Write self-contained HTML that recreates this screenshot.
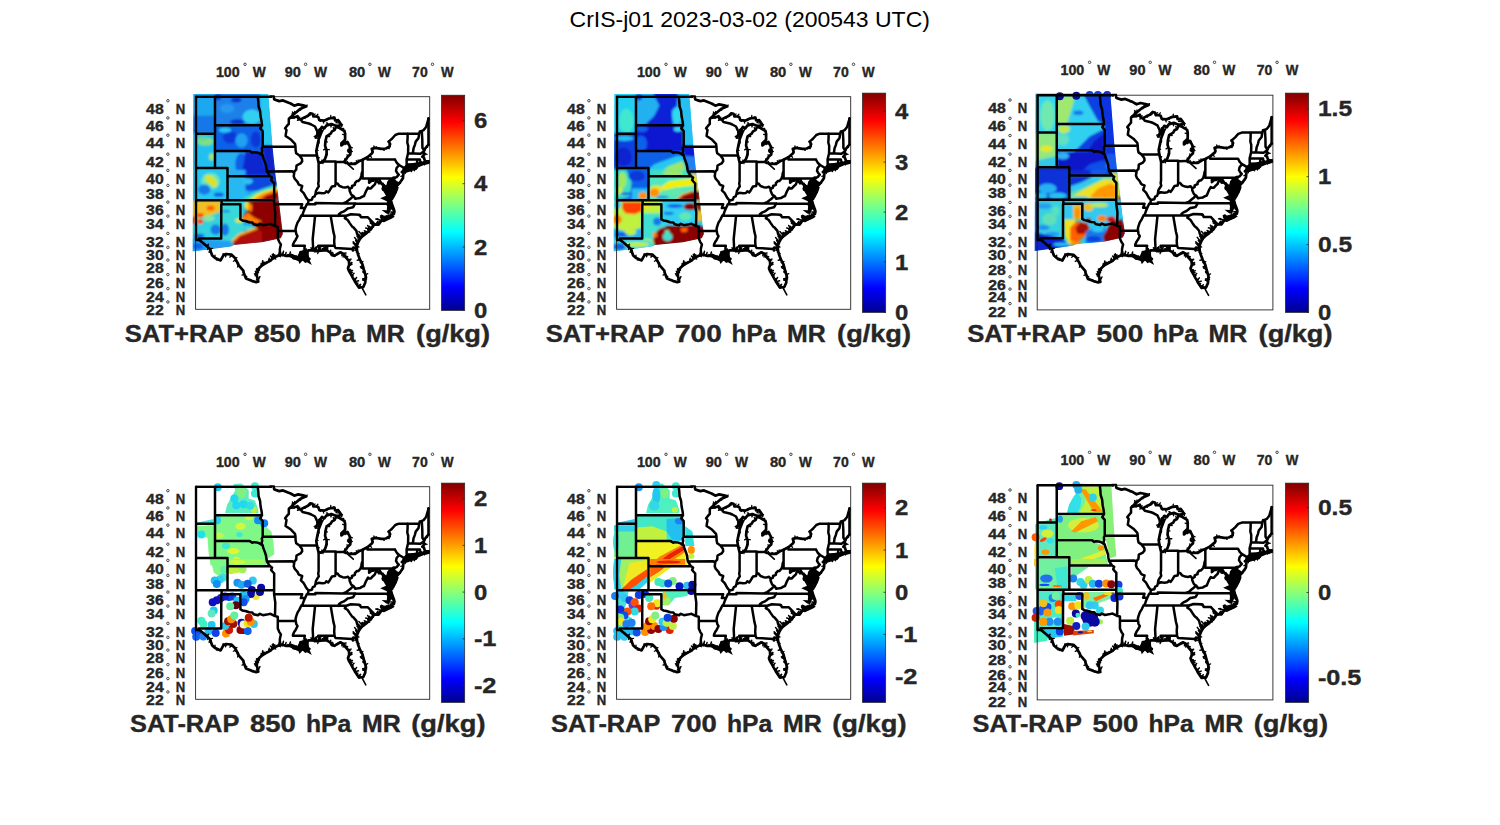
<!DOCTYPE html><html><head><meta charset="utf-8"><style>html,body{margin:0;padding:0;background:#fff}body{width:1500px;height:825px;overflow:hidden;font-family:"Liberation Sans",sans-serif}</style></head><body><svg width="1500" height="825" viewBox="0 0 1500 825" style="display:block" font-family="Liberation Sans, sans-serif">
<defs>
<g id="usmap" fill="none" stroke="#000" stroke-linejoin="round" stroke-linecap="round"><path d="M0.9 0.1L75.2 0.1 M19.4 0.1L19.4 71.3 M0.9 37.0L19.4 37.0 M0.9 71.3L31.9 71.3 M31.9 71.3L31.9 103.6 M31.9 79.5L74.3 79.5 M0.9 103.6L78.5 103.6 M26.0 103.6L26.0 107.5 M26.0 107.5L44.8 107.5 M25.7 107.5L25.6 141.7L3.3 141.7L3.8 143.3L0.9 143.3 M44.8 107.5L44.8 122.5 M19.4 28.6L66.4 28.6 M19.4 54.4L54.2 54.4L56.7 56.1L58.3 55.5L61.1 55.7L63.6 56.5L65.5 57.8L67.1 58.8 M67.1 50.1L66.2 51.8L66.6 54.0L65.9 56.8L67.1 58.8 M67.1 50.1L67.1 34.3L64.6 31.6L66.4 28.6 M66.4 28.6L66.1 25.3L65.0 19.8L64.5 14.3L63.0 9.6L62.7 4.9L62.2 0.1 M67.1 50.1L99.9 50.1 M71.3 74.8L96.7 74.5L98.6 76.4 M67.1 58.8L67.7 61.2L69.3 65.4L70.4 68.8L70.8 72.1L71.3 74.8L73.0 77.5L74.3 79.5L76.5 80.8L75.5 83.2L76.8 84.8L78.6 86.8 M78.6 86.8L78.5 107.5 M78.5 107.5L79.7 116.0L79.4 129.4 M78.5 107.5L106.6 107.5L105.2 111.4L109.4 111.4 M44.8 122.5L46.7 123.7L49.8 124.3L53.6 125.6L56.7 125.7L58.0 127.6L62.4 128.6L64.2 127.1L67.4 128.5L71.1 127.9L74.9 127.1L79.4 129.4L82.2 130.1L82.2 141.8L83.7 145.4L85.3 147.7L84.3 152.0L84.2 155.6L83.4 158.5 M82.2 134.1L100.2 134.2 M94.3 21.2L93.2 22.0L93.2 27.3L92.2 28.2L89.5 31.6L90.9 33.4L90.3 37.0L90.0 39.2L93.1 41.4L95.6 43.1L99.4 47.1L99.9 50.1 M99.9 50.1L100.0 53.6L100.6 56.6L103.5 58.6L106.3 62.1L106.6 64.6L105.0 66.7L100.9 68.8L100.6 73.0L98.7 75.0L98.6 76.4L98.1 79.5L99.1 82.0L101.9 85.2L103.1 87.7L104.4 88.5L106.6 89.3L106.3 90.5L105.3 93.7L108.1 96.5L110.7 101.2L112.9 103.8L112.5 106.7L111.2 107.5L110.3 109.5L109.4 111.4L108.1 114.5L106.9 118.0L105.6 119.1L103.8 122.9L101.9 126.0L100.6 129.7L100.0 132.0L100.2 134.2L100.6 137.2L101.9 139.5L100.0 143.2L98.7 145.0L97.5 147.6L97.3 149.0 M97.3 149.0L109.2 149.0L108.8 151.6L109.9 155.0 M103.5 58.6L121.3 58.7 M123.0 65.4L123.0 84.8L122.6 86.9L123.2 89.7L121.6 92.1L120.4 94.1L119.9 97.3 M167.0 74.3L166.2 76.3L165.7 79.0L164.9 82.0L162.7 84.4L161.2 84.4L159.3 86.5L159.3 88.1L156.4 89.3L156.4 90.9L154.0 92.3L152.4 90.1L149.5 90.9L147.0 90.5L143.9 89.3L142.0 86.9L140.0 86.9L139.5 89.3L136.4 89.8L134.2 93.5L132.6 95.7L130.7 94.5L129.5 96.2L126.3 96.5L122.9 96.1L119.9 97.3L119.1 99.7L117.2 100.4L116.3 103.0L112.9 103.8 M140.0 65.4L140.0 86.9 M167.0 63.1L167.0 81.8 M167.0 81.8L196.7 81.8L197.9 80.9L199.0 81.2 M171.8 60.6L171.8 62.9L199.4 62.9 M199.4 62.9L201.3 66.3L203.5 68.3L201.0 71.3L200.4 74.2L201.9 76.7L203.2 77.9L201.0 80.4L199.0 81.2 M203.5 68.3L208.5 71.3 M196.7 81.8L196.7 92.0L201.3 92.1 M184.6 85.1L183.7 82.8L181.5 82.2L180.3 82.8L178.1 82.8L177.8 84.0L175.9 84.0L173.5 86.1L173.5 81.8 M184.6 85.1L183.9 86.6L180.6 83.9L179.3 87.7L177.3 89.5L175.3 91.7L173.4 91.7L172.4 90.9L170.6 94.1L168.4 99.3L166.8 99.9L164.6 101.2L162.4 101.6L159.7 102.0L157.9 99.3 M157.9 99.3L155.8 98.1L155.2 96.9L154.0 94.1L154.0 92.3 M157.9 99.3L155.5 101.5L153.3 103.2L150.5 105.6L147.2 106.7 M147.2 106.7L159.7 106.7L159.7 107.1L196.2 107.1 M147.2 106.7L119.8 106.3L119.8 107.5L111.2 107.5 M159.7 106.7L158.3 109.1L157.4 110.6L153.9 111.4L152.1 111.8L148.3 114.7L145.2 116.0L143.3 117.6L143.1 119.2 M105.6 119.1L150.8 119.1 M150.8 119.1L155.2 117.6L163.7 118.0L163.8 118.7L164.4 118.3L165.4 120.5L172.3 120.6L179.3 127.8 M150.8 119.1L149.2 121.4L152.1 123.3L154.3 126.7L156.4 129.7L158.0 130.9L160.8 134.2L161.5 137.2L163.0 140.2L163.3 140.9L164.8 141.5 M135.1 119.3L137.8 135.2L138.9 139.5L138.6 144.6L138.9 149.0 M138.9 149.0L122.6 149.0L122.6 150.1L123.8 151.6L123.1 154.3 M138.9 149.0L139.8 151.2L156.4 152.2L157.4 153.8L157.7 152.0L157.4 150.9L160.8 151.1 M118.8 119.1L119.4 119.9L117.1 142.5L117.6 153.6 M212.0 36.9L212.0 41.4L211.7 45.8L212.6 49.2L212.5 56.6L211.0 62.5L211.1 68.8L209.8 70.5L210.1 71.3 M212.5 56.6L224.8 57.0L227.3 55.4L227.8 55.5 M211.0 62.5L221.7 62.7L224.3 62.7L224.3 63.8L225.5 65.9L226.0 67.1 M221.7 62.7L221.4 68.6 M223.6 36.9L222.9 41.4L220.1 44.9L219.2 48.4L217.9 51.8L217.6 54.4L217.0 56.7 M226.2 34.3L226.7 43.1L226.8 51.0L228.6 53.8 M193.1 44.9L196.6 41.8L199.7 38.3L203.2 37.0L223.6 36.9L224.2 34.7L226.2 34.3L228.0 33.4L230.5 30.3L231.4 27.1L233.0 21.7 M122.6 36.1L121.3 33.9L119.4 29.8L115.7 27.8L113.2 26.8L106.9 25.3L105.0 22.8 M148.6 65.2L140.1 65.4L140.1 64.9L127.5 64.9 M200.0 95.5L197.5 96.1" stroke-width="2.5"/><path d="M110.7 9.6L104.4 12.4L99.4 16.6L94.3 21.2L100.0 20.3L101.9 19.4L102.8 22.1L105.0 22.8L108.8 20.7L111.9 19.4L114.7 16.6L116.9 17.1L117.9 19.8L120.7 19.8L122.6 20.3L123.8 23.5L128.8 23.9L133.2 21.8L138.9 21.0L139.5 23.8L142.6 23.5L144.5 26.2L145.8 28.3L140.8 29.4L135.7 27.3L130.7 28.9L128.8 31.6L126.3 30.3L122.6 36.1 M122.6 36.1L120.1 40.9L124.5 35.2L126.3 34.3L123.2 42.3L121.9 48.4L120.7 54.4L121.3 58.7L122.6 64.2L123.1 65.4L125.1 66.0L127.5 64.9 M127.5 64.9L129.5 62.1L131.0 57.8L131.0 53.6L129.5 49.2L129.8 44.9L131.0 39.6L135.1 37.0L136.4 34.7L138.9 33.4L140.5 30.0L143.9 31.3L148.9 34.3L149.5 37.0L149.5 43.1L145.8 46.6L145.8 48.8L148.9 46.2L151.7 45.2L153.9 49.2L155.1 54.4L154.6 57.8L152.1 60.0L150.5 62.5L148.6 65.2 M148.6 65.2L153.3 67.1L157.7 67.1L159.6 67.1L164.0 64.2L167.0 63.1L171.8 60.6L176.5 56.6L177.1 55.3L176.2 52.2L179.7 51.2L185.9 52.1L190.3 51.8L194.1 49.7L194.1 46.6L193.1 44.9 M233.0 47.9L231.7 49.2L229.5 51.8L228.6 53.8L227.8 55.5L229.2 57.4L228.0 58.3L226.7 60.0L228.3 60.8L228.9 62.9L229.8 64.6L233.0 64.6 M233.0 65.9L229.8 66.7L228.9 65.0L228.9 66.7L226.0 67.1L224.2 67.1L223.6 68.2L221.4 68.6L218.6 69.0L214.2 69.6L210.1 71.3L208.5 71.3L207.6 74.2L206.3 75.4L207.9 75.8L207.3 81.6L205.4 84.4L202.2 88.2L201.6 86.1L199.1 84.4L198.2 82.8L199.0 81.2L197.9 83.2L199.1 86.9L201.0 89.3L201.3 92.1L200.0 95.5L197.9 99.7L195.7 102.7L195.3 101.2L196.6 98.1L197.5 96.1L196.0 96.1L194.1 93.3L193.5 90.1L194.1 87.7L194.7 84.4L195.3 83.2L194.7 83.2L192.8 85.7L192.2 88.5L192.8 92.5L193.3 95.3L189.7 93.3L187.5 92.9L187.2 91.7L188.8 89.3L185.9 86.9L184.6 85.1 M207.9 74.8L211.0 74.6L217.3 72.5L221.1 70.9L218.6 70.5L216.7 71.5L212.9 71.9L209.5 72.5L208.2 73.4L207.9 74.8 M193.3 95.3L193.5 98.9L193.5 103.6L195.5 104.4L196.2 107.1L197.2 109.8L198.5 113.3L198.8 114.9L198.3 117.3L195.3 118.6L192.0 122.2L189.1 121.8L185.9 123.7L183.1 127.9L179.3 127.8L177.1 129.4L175.3 132.7L172.8 134.6L170.9 136.5L167.4 139.1L164.8 141.5L163.0 144.6L161.5 148.3L161.2 151.1L161.5 154.1L162.4 157.8L164.6 163.5L166.8 167.5L168.4 173.5L170.1 179.1L169.6 186.1L167.7 190.3L163.3 190.9L159.6 185.4L159.0 184.0L157.1 180.9L155.8 178.4L153.3 174.2L152.4 171.7L153.6 167.8L153.3 164.2L150.2 160.7L147.0 156.7L144.8 155.6L142.6 156.7L138.6 159.1L136.4 158.5L134.5 155.6L130.7 153.4L125.1 153.9L123.1 154.3L120.1 154.5L120.1 151.4L120.7 153.4L119.4 153.8L117.6 153.6L113.2 153.6L109.9 155.0L108.5 155.2L111.3 156.0L111.3 158.1L110.0 159.2L112.5 161.4L113.8 162.2L111.3 163.9L110.0 161.7L106.9 162.4L103.8 163.2L100.0 161.7L96.2 159.9L94.3 159.2L90.6 159.2L86.8 158.1L83.4 158.5L78.0 161.0L74.9 163.9L69.9 166.7L66.7 168.5L63.6 171.4L61.7 175.6L61.1 178.4L62.0 181.9L62.7 185.0L60.5 185.4L56.1 184.0L50.4 181.9L47.9 175.6L47.9 174.2L42.9 168.5L41.7 165.7L39.1 161.0L36.0 158.0L30.4 157.3L27.9 158.5L25.0 163.7L19.7 161.4L16.6 158.8L14.1 152.0L7.2 146.1L3.8 143.3 M75.2 0.1L75.2 -3.5L77.4 -2.7L78.7 2.8L83.7 4.4L87.4 3.7L91.8 5.6L95.0 6.8L98.7 9.0L102.5 7.7L107.5 8.7L110.7 9.6" stroke-width="2.7"/><path d="M167.7 190.3L166.8 192.0L170.2 198.2 M66.7 168.5L67.1 164.2 M78.0 161.0L76.8 158.1 M152.1 67.5L157.7 72.5" stroke-width="1.6"/><path d="M109.2 10.3l-1.8 -0.5M106.9 11.3l-0.9 -0.9M110.6 9.7l0.9 -1.4M103.2 13.4l2.0 -0.1M100.2 15.9l-2.3 0.3M98.6 17.3l-1.8 -2.1M96.7 19.0l-0.1 -2.4M99.0 16.9l0.1 -2.3M96.0 20.9l2.7 0.5M97.0 20.8l-0.5 -2.7M102.5 21.3l1.7 -0.9M104.6 22.7l-2.7 1.0M108.3 21.0l1.2 0.8M109.5 20.4l1.9 -0.4M113.7 17.6l-0.7 2.0M115.6 16.8l-1.3 1.8M117.5 18.7l2.0 -1.4M120.5 19.8l1.8 -2.3M123.4 22.4l1.4 2.3M128.7 23.9l1.8 -1.3M127.4 23.8l0.7 2.6M131.4 22.7l-0.3 1.3M132.6 22.1l1.4 -0.1M137.8 21.2l-1.2 0.8M134.9 21.6l0.3 -2.8M138.9 21.1l-1.0 -0.8M141.8 23.6l-1.4 2.4M144.5 26.2l-3.0 -0.1M144.9 26.9l2.0 1.1M145.6 28.3l0.6 1.8M142.7 28.9l0.7 1.1M136.4 27.6l-1.1 2.7M136.3 27.5l-1.5 1.4M133.1 28.1l-1.4 -1.8M132.9 28.2l-2.1 -2.0M129.8 30.3l-2.3 1.0M128.3 31.3l-0.9 2.8M124.4 33.3l-1.2 -0.4M124.8 32.7l-1.1 -0.6M124.0 33.8l-0.9 -1.0M121.0 39.1l-2.4 0.5M121.7 37.8l-0.7 -2.4M120.2 40.8l2.2 0.9M124.3 35.4l-0.0 2.0M122.7 37.5l-0.8 1.7M125.4 36.8l-1.5 1.7M125.4 36.7l-1.9 1.8M126.3 34.5l-2.3 -1.1M122.8 44.2l0.5 2.6M122.9 43.7l0.8 1.8M121.1 52.6l1.4 1.1M121.5 50.4l1.0 -1.7M121.2 58.1l0.9 1.6M122.1 62.3l1.5 -1.3M121.6 59.9l1.6 1.5M125.5 65.8l0.9 -2.5M127.8 64.4l-0.5 2.6M130.5 59.3l0.6 -1.7M129.7 61.5l-0.7 2.5M131.0 56.7l-1.1 1.6M130.4 51.7l-2.4 1.5M130.8 52.9l2.9 0.1M129.8 45.4l2.0 -0.2M131.0 39.9l1.4 -0.7M130.7 41.0l1.2 -2.0M133.2 38.2l-0.4 1.8M132.0 39.0l2.1 0.9M135.5 36.3l0.5 -1.2M138.6 33.5l-1.0 -2.7M140.3 30.4l1.8 -1.3M140.5 30.0l-0.0 -1.5M145.4 32.2l-1.1 -1.8M146.0 32.6l2.1 -0.9M149.1 35.2l-0.0 2.8M149.5 39.9l0.4 -1.8M149.5 38.2l-2.6 -0.6M148.9 43.7l0.7 -2.8M146.5 46.0l0.5 -1.1M147.8 47.2l0.8 -1.0M149.7 45.9l-0.3 2.1M152.7 46.9l-2.6 0.4M151.7 45.2l1.3 0.5M154.1 49.9l2.7 1.2M154.9 53.7l1.8 1.1M154.9 55.5l-0.7 1.7M152.9 59.2l-1.6 -1.0M151.8 60.4l-0.7 1.3M149.4 64.0l-0.4 -1.8M149.0 65.3l0.8 1.7M151.5 66.4l0.4 -1.8M156.8 67.1l-1.4 -1.4M161.2 66.0l-2.5 0.1M161.4 65.9l-0.7 -1.9M164.7 63.9l-2.4 -0.5M167.3 62.9l-1.8 0.9M171.2 60.9l1.7 -0.7M176.0 57.0l0.4 -1.6M174.0 58.7l1.9 1.9M176.5 53.2l2.0 -1.7M178.5 51.5l-0.2 -2.2M180.3 51.3l-1.0 -0.6M180.6 51.4l0.2 -1.3M186.3 52.1l2.3 1.6M191.0 51.4l2.7 0.4M194.1 49.3l1.3 -2.0M229.9 51.4l2.1 -0.7M228.9 57.0l2.5 0.6M228.6 61.9l-0.3 -1.4M232.2 64.6l1.2 -0.5M232.0 66.1l-2.5 -1.1M228.2 66.8l0.7 1.5M222.2 68.5l0.0 -1.9M220.3 68.8l-1.5 1.1M216.7 69.2l1.8 1.0M214.3 69.6l-2.2 1.3M213.5 69.9l-0.9 -2.4M211.4 70.8l-2.1 -0.2M207.9 73.2l1.2 -0.9M207.8 76.4l-0.0 -2.8M207.6 78.8l-2.3 0.9M206.9 82.1l-0.2 1.5M203.5 86.7l-0.6 1.5M203.2 87.1l1.7 -0.5M201.8 86.7l-2.3 1.4M200.1 85.1l-0.2 1.6M199.0 81.2l-1.9 0.2M198.1 83.8l-1.1 1.4M200.6 88.7l1.8 2.3M201.1 90.6l-1.7 -1.2M200.3 94.9l1.0 -2.0M199.0 97.5l-0.5 -2.7M199.2 97.1l-0.3 -2.9M196.8 101.1l0.2 1.6M196.2 99.0l-1.3 -2.6M194.4 93.7l0.1 1.5M193.9 92.5l0.9 2.3M194.0 88.0l1.3 -1.0M194.6 84.9l-0.8 1.8M193.3 85.0l1.2 0.7M192.3 88.0l-0.5 1.8M192.6 90.8l-0.5 -1.1M193.0 93.4l-1.9 0.8M192.5 94.9l-2.5 -1.5M188.8 93.1l-1.4 -0.4M187.6 91.0l-0.7 -1.2M186.3 87.1l1.2 -0.7M184.6 85.2l-1.8 1.8M210.3 74.6l-0.7 2.3M215.1 73.3l0.6 -1.6M215.8 73.0l2.3 -0.6M214.4 73.5l1.6 1.4M218.6 72.0l-0.5 -2.4M219.6 70.6l1.0 2.1M214.3 71.7l1.2 2.5M210.6 72.3l2.1 2.0M193.3 95.8l-1.2 2.2M193.5 101.7l-2.2 -0.8M193.5 101.0l-0.6 1.4M193.6 103.7l-0.5 -2.5M195.9 105.9l-0.1 -1.8M196.4 107.8l-2.1 1.9M197.3 110.0l-1.6 -0.0M198.4 116.8l-1.1 1.4M197.1 117.8l-2.5 -0.7M194.2 119.8l0.8 -1.2M194.4 119.5l1.1 0.8M189.7 121.9l-0.2 -1.5M188.5 122.1l-2.2 1.3M183.6 127.1l-0.0 -2.3M185.5 124.3l-1.2 0.9M181.1 127.8l-1.4 -0.7M178.8 128.2l0.2 -1.2M175.6 132.1l2.3 -1.8M174.3 133.5l-2.1 -0.7M171.6 135.8l2.4 -0.4M169.8 137.3l1.3 -1.6M165.8 140.5l-0.2 -1.2M163.4 143.9l-1.1 -1.8M162.2 146.6l-1.5 0.4M161.3 149.8l2.0 0.5M161.4 153.1l-2.1 0.8M162.4 157.6l1.1 -0.9M164.1 162.3l-0.9 -0.9M163.2 159.8l0.1 1.3M165.8 165.6l1.6 -0.8M166.5 166.9l-0.5 -1.4M168.1 172.6l-2.3 -1.7M167.9 171.8l-0.1 -1.8M169.7 178.1l2.5 -1.1M169.1 176.0l0.1 -2.1M170.0 179.9l1.3 0.4M170.0 180.5l1.1 1.8M169.8 184.0l-1.9 -0.5M168.4 188.8l-0.7 1.9M168.2 189.3l-1.2 0.9M163.8 190.8l-0.4 -1.8M166.1 190.5l-2.2 -0.4M162.5 189.7l1.6 0.0M160.4 186.6l1.3 1.6M158.6 183.4l0.4 1.5M156.6 179.9l0.6 1.1M155.5 178.0l1.0 1.8M155.7 178.2l2.0 0.3M152.9 173.2l-0.4 -1.2M152.9 170.1l-1.0 0.8M153.3 164.4l0.3 1.3M151.8 162.5l1.2 2.0M152.2 163.0l0.9 0.9M147.9 157.8l-0.4 2.6M148.7 158.8l1.6 -0.7M146.5 156.4l-0.3 2.7M143.5 156.3l-0.8 1.1M139.9 158.3l2.2 -0.4M142.6 156.7l1.3 0.3M138.2 159.0l1.3 0.3M135.1 156.6l1.3 -0.9M130.8 153.5l-2.6 0.4M125.6 153.9l1.2 -0.5M129.0 153.6l-2.3 -1.8M122.8 154.3l-0.7 2.6M120.1 154.1l-1.4 1.1M114.6 153.6l1.4 -0.7M110.8 154.7l-0.3 -2.7M110.0 155.6l1.6 -0.9M111.1 160.1l0.3 2.6M112.6 163.0l-0.2 1.5M110.4 162.3l-2.0 -1.5M108.8 162.0l-1.5 0.1M104.7 163.0l2.0 0.3M100.9 162.1l-0.6 -1.2M99.1 161.3l1.3 -2.0M91.0 159.2l1.4 -1.4M87.2 158.2l-0.2 -1.8M85.5 158.3l1.7 0.8M78.3 160.9l1.8 1.4M82.8 158.8l2.1 1.2M77.3 161.7l1.4 0.4M71.7 165.7l-1.0 -0.6M73.7 164.5l1.6 -0.3M68.1 167.7l-2.3 1.3M64.8 170.2l0.5 -2.1M63.3 172.2l0.6 1.2M62.1 174.9l0.9 0.8M61.1 178.3l0.9 2.7M61.2 178.7l-1.6 0.3M62.6 184.5l-1.8 -1.6M61.0 185.3l1.3 -1.3M57.8 184.6l-1.3 0.5M56.8 184.3l-2.2 -1.5M54.9 183.6l-2.0 -0.5M52.0 182.5l1.6 0.9M49.2 178.9l2.0 1.0M48.6 177.3l-2.1 1.1M48.9 178.1l0.4 1.8M42.9 168.6l-1.0 1.7M47.5 173.7l0.3 1.5M43.3 168.9l-0.4 -2.7M41.7 165.7l-2.2 -1.9M40.3 163.2l-2.5 1.4M39.4 161.5l2.0 -0.6M36.7 158.7l-2.5 1.7M30.8 157.3l-0.8 2.8M35.0 157.8l2.1 1.4M29.6 157.6l-2.3 -0.3M27.7 158.7l-0.1 -1.7M26.6 160.7l-1.4 2.1M21.0 162.0l-0.3 1.3M23.4 163.0l-1.1 0.7M19.2 161.0l0.2 -2.5M14.1 152.1l2.8 -0.4M15.6 156.3l0.9 1.5M15.4 155.7l-2.1 -0.4M11.6 149.9l1.0 -1.4M10.9 149.2l2.0 -1.7M12.0 150.2l0.1 2.6M14.0 151.9l1.5 1.6M5.4 144.6l0.7 1.1" stroke-width="1.3"/><path d="M190.7 122.0l-4.5 -3.4M190.6 122.0l-3.4 -2.8M188.5 122.1l-3.5 -2.9M186.6 123.3l-1.6 -2.8M185.7 124.1l-4.3 -2.0M185.8 123.9l-5.6 -1.6M184.1 126.4l-2.2 -1.5M183.1 127.9l-1.7 -1.4M182.4 127.8l-1.3 -1.7M178.3 128.5l-3.9 -3.7M178.2 128.6l-3.4 -2.2M175.9 131.6l-2.3 -2.1M175.3 132.7l-5.2 -1.4M173.5 134.1l-1.9 -2.2M174.5 133.3l-2.4 -4.5M172.0 135.4l-3.3 -1.4M171.0 136.4l-1.8 -0.8M170.2 137.0l-3.7 -1.3M167.5 139.0l-1.6 -1.6M168.7 138.1l-2.8 -1.4M167.2 139.3l-3.9 -4.4M165.4 140.9l-1.5 -2.6M164.6 141.8l-2.4 -4.6M164.5 142.0l-3.0 -2.3M162.7 145.3l-2.2 -1.2M162.0 147.0l-1.9 -3.2M162.7 145.4l-3.7 -4.6M161.2 150.5l-3.6 -4.2M161.4 148.9l-3.8 -3.8M196.7 108.4l-5.0 0.2M196.3 107.5l-2.4 -2.8M197.6 110.8l-4.9 1.3M198.0 111.9l-5.0 -0.5M197.4 110.4l-2.6 -0.7M198.8 114.7l-4.0 -4.0M198.8 115.1l-3.5 0.3M198.6 115.9l-2.0 0.6M198.1 117.4l-3.9 1.7M198.0 117.5l-5.5 3.0M195.0 119.0l-2.5 -0.7M194.3 119.7l-2.7 -0.0M193.0 121.1l-1.9 -2.0M192.6 121.5l-3.7 -1.2M162.4 189.5l2.6 -1.8M160.2 186.3l2.1 0.2M162.8 190.1l3.3 0.1M162.9 190.2l1.9 -0.8M159.4 185.0l3.5 -0.9M157.8 182.1l2.1 0.7M158.7 183.6l2.3 -2.7M156.1 178.9l2.3 -2.4M153.4 174.4l1.6 -1.5M153.7 174.8l3.2 -1.1M154.4 176.1l2.3 -0.6M152.9 173.1l1.8 -0.2M153.4 168.5l2.9 -2.7M153.2 169.0l3.1 -1.4M153.6 167.3l2.2 -1.5M153.6 167.2l2.8 0.2M152.5 163.3l2.9 -0.9M152.1 162.8l2.7 0.5M149.4 159.7l2.0 0.0M149.0 159.2l3.0 0.8M147.2 156.9l3.2 -0.6M145.0 155.7l1.8 0.5M138.3 159.0l-1.3 -3.2M134.6 155.8l0.5 -2.2M131.7 154.0l-0.7 -2.3M131.9 154.1l0.2 -3.8M130.1 153.5l1.2 -4.0M128.7 153.6l1.0 -3.8M127.2 153.7l1.2 -2.9M123.8 154.2l1.3 -3.2M122.7 154.3l0.2 -1.7M120.1 153.9l-1.9 -2.0M120.7 153.4l-0.0 -3.3M119.6 153.7l-0.6 -1.7M118.3 153.7l-0.6 -2.0M117.1 153.6l-1.7 -2.5M116.7 153.6l-0.0 -2.2M110.6 154.7l-0.2 -1.8M108.7 155.2l1.1 -2.1M108.5 155.3l-0.8 -1.7M111.3 157.1l1.4 -2.6M110.4 158.9l-0.4 -2.8M111.2 160.3l0.0 -3.3M112.7 161.5l-0.1 -2.2M111.6 163.7l-1.1 -1.3M111.1 163.6l-1.2 -3.0M110.0 161.7l-1.6 -4.0M105.6 162.8l0.4 -3.2M100.2 161.8l0.6 -2.3M103.0 162.9l-0.8 -2.8M99.0 161.3l0.1 -1.6M98.8 161.2l-2.2 -2.4M95.7 159.7l-1.7 -2.0M93.4 159.2l1.0 -1.6M93.6 159.2l1.2 -3.9M89.6 158.9l0.9 -3.2M87.1 158.2l0.8 -3.7M85.5 158.3l-0.6 -3.2M78.3 160.9l-1.3 -2.7M78.9 160.6l0.3 -2.6M78.2 160.9l-0.6 -3.8M77.0 161.9l-2.1 -2.6M77.3 161.7l-1.9 -2.2M73.2 164.9l0.4 -1.8M73.9 164.5l-0.7 -1.8M73.6 164.6l-0.0 -3.1M68.7 167.4l-1.1 -2.0M68.7 167.4l0.0 -1.9M66.0 169.2l1.5 -3.4M66.3 168.9l-0.7 -2.1M62.4 174.1l-0.8 -2.4M61.9 175.3l-1.0 -3.0M61.7 175.8l0.1 -2.3M61.5 180.1l-2.6 -3.1M61.2 178.7l-1.4 -4.1M62.4 183.6l1.9 -3.6M161.5 154.0l-1.9 -1.6M161.6 154.7l-0.8 0.6M164.3 162.8l-2.6 0.7M164.6 163.5l-1.6 -0.6M166.2 166.3l-1.5 -0.5M167.2 168.8l-2.4 1.3M168.0 172.3l-2.6 -1.1M169.2 176.4l-1.8 -0.7M169.1 175.9l-1.8 -1.2M169.9 181.7l-2.8 0.3M169.8 183.7l-2.7 -0.4" stroke-width="1.5"/><path d="M152.0 52.0L154.6 51.2L156.0 53.2L155.0 56.0L152.6 56.6L151.2 54.4Z" fill="#000" stroke="none"/><path d="M187.2 86.0L186.2 92.0L190.4 99.0L184.6 101.6L191.2 104.5L191.6 108.0L191.2 113.6L186.0 113.4L190.6 116.8L193.4 117.6L195.0 114.0L196.4 109.7L196.0 103.6L198.2 99.3L201.0 94.9L200.6 91.4L203.2 87.0L200.2 84.2L196.8 82.0L193.3 85.4L190.6 88.8Z" fill="#000" stroke="none"/><path d="M189.0 118.5L192.5 119.5L196.5 118.0L199.2 120.0L196.0 122.0L192.5 123.5L188.5 125.5L185.0 125.0L188.5 122.0Z" fill="#000" stroke="none"/><path d="M208.0 72.6L209.0 69.4L212.5 66.6L217.5 66.3L225.4 65.0L233.2 63.6L233.2 66.4L227.1 68.9L221.9 71.0L218.6 75.0L217.0 71.9L211.0 73.8Z" fill="#000" stroke="none"/><path d="M103.9 154.2L109.6 153.3L113.1 155.1L113.1 161.2L116.2 168.2L111.4 165.5L109.6 166.4L107.0 163.8L103.9 167.3L102.6 163.8L97.4 162.9L92.2 157.7L95.6 156.8L101.8 159.4L103.1 156.8Z" fill="#000" stroke="none"/><path d="M0.4 0L0.4 143.3" stroke-width="2.4"/><path d="M232.79999999999998 47.9L232.79999999999998 21.7" stroke-width="2.4"/></g>
<clipPath id="boxclip"><rect x="-1.45" y="-1.45" width="237.0" height="215.5"/></clipPath>
<linearGradient id="jet" x1="0" y1="1" x2="0" y2="0">
<stop offset="0" stop-color="#00008f"/>
<stop offset="0.11" stop-color="#0000ff"/>
<stop offset="0.365" stop-color="#00ffff"/>
<stop offset="0.62" stop-color="#ffff00"/>
<stop offset="0.875" stop-color="#ff0000"/>
<stop offset="1" stop-color="#800000"/>
</linearGradient>
<filter id="bl" x="-5%" y="-5%" width="110%" height="110%"><feGaussianBlur stdDeviation="1.0"/></filter>
<filter id="bl2" x="-5%" y="-5%" width="110%" height="110%"><feGaussianBlur stdDeviation="0.55"/></filter>
<clipPath id="sw0"><polygon points="193.4,94.0 268.3,94.0 272.4,145.6 275.5,175.0 277.5,189.6 282.9,233.9 280.8,238.2 262.1,242.3 234.3,244.9 231.2,246.4 192.6,251.6"/></clipPath>
<clipPath id="sw1"><polygon points="614.4,94.0 689.3,94.0 693.4,145.6 696.5,175.0 698.5,189.6 703.9,233.9 701.8,238.2 683.1,242.3 655.3,244.9 652.2,246.4 613.6,251.6"/></clipPath>
<clipPath id="sw2"><polygon points="1035.4,93.4 1110.3,93.4 1114.4,145.0 1117.5,174.4 1119.5,189.0 1124.9,233.3 1122.8,237.6 1104.1,241.7 1076.3,244.3 1073.2,245.8 1034.6,251.0"/></clipPath>
</defs>
<rect width="1500" height="825" fill="#fff"/>
<text x="569.6" y="26.6" font-size="21.2" font-weight="normal" text-anchor="start" fill="#000" textLength="360.3" lengthAdjust="spacingAndGlyphs">CrIS-j01 2023-03-02 (200543 UTC)</text>
<g clip-path="url(#sw0)"><polygon points="193.4,94.0 268.3,94.0 272.4,145.6 275.5,175.0 277.5,189.6 282.9,233.9 280.8,238.2 262.1,242.3 234.3,244.9 231.2,246.4 192.6,251.6" fill="#1f9cf0"/><g filter="url(#bl)">
<rect x="192.1" y="92.1" width="22.7" height="23.7" fill="#1ca8f0"/>
<rect x="192.1" y="115.7" width="22.7" height="17.5" fill="#1278e8"/>
<rect x="214.7" y="92.1" width="45.3" height="33.0" fill="#1a80e8"/>
<ellipse cx="251.8" cy="116.8" rx="9.3" ry="7.2" fill="#30d0f0"/>
<ellipse cx="227.1" cy="108.5" rx="7.2" ry="4.6" fill="#2898f0"/>
<ellipse cx="237.4" cy="121.9" rx="7.2" ry="2.6" fill="#0830d0"/>
<ellipse cx="236.3" cy="99.8" rx="5.1" ry="2.6" fill="#0830d0"/>
<ellipse cx="217.8" cy="97.2" rx="3.1" ry="3.1" fill="#0830d0"/>
<path d="M260.0 92.1L269.3 92.1L273.4 145.6L262.1 145.6L261.1 125.0Z" fill="#28c8f0"/>
<rect x="214.7" y="125.0" width="47.4" height="26.8" fill="#1060e8"/>
<ellipse cx="230.2" cy="137.4" rx="7.2" ry="6.2" fill="#0838d8"/>
<ellipse cx="255.9" cy="139.4" rx="5.1" ry="8.2" fill="#0838d8"/>
<ellipse cx="225.0" cy="130.2" rx="6.2" ry="2.6" fill="#28c8f0"/>
<ellipse cx="241.5" cy="140.5" rx="6.2" ry="7.2" fill="#20a0f0"/>
<rect x="192.1" y="133.3" width="22.7" height="34.0" fill="#20c0f0"/>
<ellipse cx="205.4" cy="141.5" rx="8.2" ry="4.1" fill="#80e080"/>
<ellipse cx="211.6" cy="156.9" rx="2.6" ry="3.6" fill="#a0e860"/>
<ellipse cx="202.4" cy="138.4" rx="5.1" ry="2.1" fill="#60d8a0"/>
<rect x="214.7" y="151.8" width="28.8" height="23.7" fill="#28b0f0"/>
<ellipse cx="241.5" cy="164.2" rx="6.2" ry="11.3" fill="#1060e8"/>
<path d="M245.6 151.8L262.1 151.8L266.2 175.5L241.5 175.5Z" fill="#0828d0"/>
<path d="M262.1 145.6L273.4 145.6L276.5 175.5L266.2 175.5Z" fill="#0820c8"/>
<rect x="192.1" y="167.2" width="36.0" height="8.2" fill="#20c8f0"/>
<rect x="192.1" y="170.0" width="36.0" height="29.9" fill="#28c8f0"/>
<ellipse cx="210.6" cy="181.3" rx="9.3" ry="8.2" fill="#70e8b0"/>
<path d="M205.4 175.1L212.7 176.2L217.8 183.4L215.7 187.5L210.6 184.4L205.4 180.3Z" fill="#e0e020"/>
<ellipse cx="204.4" cy="189.6" rx="6.2" ry="5.1" fill="#1878e8"/>
<ellipse cx="218.8" cy="194.7" rx="5.1" ry="2.1" fill="#1060e0"/>
<rect x="228.1" y="170.0" width="19.6" height="5.1" fill="#28b0f0"/>
<rect x="245.6" y="170.0" width="24.7" height="5.1" fill="#0828d0"/>
<rect x="228.1" y="176.2" width="19.6" height="23.7" fill="#28b8f0"/>
<rect x="245.6" y="176.2" width="29.9" height="14.4" fill="#0848e0"/>
<ellipse cx="247.7" cy="181.3" rx="5.1" ry="3.1" fill="#30c0f0"/>
<path d="M268.3 170.0L275.5 170.0L278.6 187.5L274.4 186.5L273.4 176.2Z" fill="#0820c8"/>
<path d="M241.5 199.9L251.8 193.2L262.1 189.1L274.4 184.9L278.6 186.5L278.6 199.9Z" fill="#40e0c0"/>
<path d="M248.7 199.9L256.9 193.9L266.2 190.4L278.6 187.7L278.6 199.9Z" fill="#f0e020"/>
<path d="M253.9 199.9L262.1 194.2L272.4 190.6L278.6 189.4L278.6 199.9Z" fill="#ff8000"/>
<path d="M260.0 199.9L266.2 195.2L278.6 191.6L278.6 199.9Z" fill="#a00000"/>
<rect x="192.1" y="200.9" width="28.8" height="39.1" fill="#30d0e0"/>
<path d="M192.1 200.9L220.9 200.9L220.9 211.2L210.6 215.3L200.3 217.4L192.1 225.6Z" fill="#f0c020"/>
<ellipse cx="210.6" cy="208.1" rx="4.1" ry="2.6" fill="#ff6000"/>
<ellipse cx="200.3" cy="215.3" rx="3.6" ry="2.1" fill="#ff4000"/>
<ellipse cx="200.3" cy="221.5" rx="3.1" ry="2.6" fill="#ff4000"/>
<ellipse cx="193.6" cy="220.5" rx="1.5" ry="4.6" fill="#e02000"/>
<ellipse cx="208.5" cy="218.4" rx="6.2" ry="3.1" fill="#80e8a0"/>
<ellipse cx="215.7" cy="229.7" rx="5.1" ry="5.1" fill="#1878e8"/>
<ellipse cx="199.3" cy="235.9" rx="5.1" ry="2.1" fill="#1060e0"/>
<rect x="220.9" y="200.9" width="22.7" height="43.3" fill="#38d8d8"/>
<rect x="220.9" y="200.9" width="30.9" height="4.6" fill="#38d8d8"/>
<ellipse cx="226.0" cy="211.2" rx="4.1" ry="1.0" fill="#1878e8"/>
<ellipse cx="225.0" cy="229.7" rx="4.1" ry="6.2" fill="#1878e8"/>
<ellipse cx="247.7" cy="227.7" rx="6.2" ry="2.6" fill="#38d8d8"/>
<path d="M247.7 200.9L279.6 200.9L283.7 233.9L281.7 239.0L262.1 243.1L234.3 245.7L232.2 241.1L239.4 233.9L256.9 227.7L251.8 223.6L241.5 218.4L243.6 214.3L247.7 211.2L245.6 206.0Z" fill="#8c0000"/>
<path d="M241.5 218.4L247.7 212.2L253.9 217.4L262.1 221.5L256.9 223.6L247.7 221.5Z" fill="#ff8000"/>
<ellipse cx="239.4" cy="220.5" rx="4.1" ry="2.1" fill="#f0e020"/>
<ellipse cx="247.2" cy="206.0" rx="2.6" ry="4.1" fill="#f0e020"/>
<ellipse cx="250.2" cy="207.6" rx="2.1" ry="4.1" fill="#ff8000"/>
<path d="M234.3 245.7L232.2 241.1L239.4 234.9L256.9 228.7L262.1 231.8L262.1 243.1Z" fill="#b00c08"/>
<path d="M231.2 241.1L238.4 233.9L255.9 227.2L258.0 228.7L239.4 235.9L233.3 242.1Z" fill="#ffb000"/>
<path d="M192.1 238.0L231.2 241.1L231.2 247.2L192.1 252.4Z" fill="#20a0f0"/>
<ellipse cx="198.2" cy="246.2" rx="5.1" ry="3.1" fill="#1060e8"/>
</g></g>
<g clip-path="url(#sw1)"><polygon points="614.4,94.0 689.3,94.0 693.4,145.6 696.5,175.0 698.5,189.6 703.9,233.9 701.8,238.2 683.1,242.3 655.3,244.9 652.2,246.4 613.6,251.6" fill="#28c8f0"/><g filter="url(#bl)">
<rect x="613.1" y="92.1" width="22.7" height="41.2" fill="#20d0f0"/>
<ellipse cx="626.4" cy="120.9" rx="7.2" ry="12.4" fill="#40e8d0"/>
<rect x="635.7" y="92.1" width="45.3" height="33.0" fill="#20b0f0"/>
<path d="M652.2 92.1L677.9 92.1L676.9 105.4L671.8 110.6L672.8 125.0L645.0 125.0L654.3 115.7L659.4 105.4Z" fill="#1020d8"/>
<ellipse cx="676.9" cy="115.7" rx="4.6" ry="8.2" fill="#30d8f0"/>
<ellipse cx="638.8" cy="97.2" rx="3.1" ry="3.1" fill="#1020d8"/>
<path d="M681.0 92.1L690.3 92.1L694.4 145.6L683.1 145.6L682.1 125.0Z" fill="#28c0f0"/>
<rect x="635.7" y="125.0" width="47.4" height="26.8" fill="#0818d0"/>
<ellipse cx="640.9" cy="143.6" rx="6.2" ry="8.2" fill="#1060e8"/>
<ellipse cx="641.9" cy="129.1" rx="6.2" ry="3.1" fill="#1060e8"/>
<ellipse cx="677.9" cy="129.1" rx="4.1" ry="2.6" fill="#30d8f0"/>
<rect x="613.1" y="133.3" width="22.7" height="34.0" fill="#1040e0"/>
<ellipse cx="624.4" cy="138.4" rx="9.3" ry="2.6" fill="#28c0f0"/>
<ellipse cx="623.4" cy="156.9" rx="8.2" ry="9.3" fill="#0820d0"/>
<rect x="635.7" y="151.8" width="49.4" height="23.7" fill="#1060e8"/>
<path d="M641.9 175.5L654.3 164.2L676.9 155.9L683.1 155.9L687.2 175.5Z" fill="#28c8f0"/>
<path d="M655.3 175.5L668.7 166.2L683.1 161.1L687.2 175.5Z" fill="#a0e860"/>
<ellipse cx="674.9" cy="173.9" rx="6.2" ry="2.6" fill="#e0e830"/>
<path d="M683.1 145.6L694.4 145.6L695.4 156.9L684.1 155.9Z" fill="#0818d0"/>
<path d="M684.1 155.9L695.4 156.9L698.0 175.5L687.7 175.5Z" fill="#2080f0"/>
<rect x="613.1" y="167.2" width="36.0" height="8.2" fill="#1060e8"/>
<ellipse cx="623.4" cy="173.6" rx="3.1" ry="2.1" fill="#e0e030"/>
<ellipse cx="617.2" cy="172.4" rx="3.1" ry="3.1" fill="#28c0f0"/>
<rect x="613.1" y="170.0" width="36.0" height="29.9" fill="#1060e8"/>
<path d="M613.1 170.0L626.4 170.0L631.6 182.4L629.5 196.8L613.1 199.9Z" fill="#40e0c0"/>
<ellipse cx="622.3" cy="180.3" rx="4.1" ry="8.2" fill="#a0e860"/>
<ellipse cx="619.2" cy="190.6" rx="3.1" ry="4.1" fill="#c0f040"/>
<ellipse cx="636.7" cy="176.2" rx="8.2" ry="5.1" fill="#0838d8"/>
<rect x="631.6" y="188.5" width="17.5" height="11.3" fill="#28c0f0"/>
<ellipse cx="642.9" cy="195.7" rx="4.6" ry="3.6" fill="#ff9000"/>
<ellipse cx="626.4" cy="193.7" rx="6.2" ry="1.5" fill="#1060e8"/>
<rect x="649.1" y="170.0" width="40.2" height="5.1" fill="#40e0c0"/>
<ellipse cx="672.8" cy="173.1" rx="10.3" ry="2.6" fill="#a0e860"/>
<rect x="649.1" y="176.2" width="47.4" height="23.7" fill="#50e8c0"/>
<path d="M660.4 187.5L668.7 181.3L693.4 178.2L694.9 185.4L674.9 187.5L664.6 190.6Z" fill="#f0f000"/>
<ellipse cx="656.3" cy="189.1" rx="6.2" ry="3.6" fill="#f0e020"/>
<ellipse cx="654.3" cy="192.7" rx="5.1" ry="4.3" fill="#ff9000"/>
<ellipse cx="673.8" cy="192.1" rx="11.3" ry="3.6" fill="#60e8b0"/>
<ellipse cx="662.5" cy="197.0" rx="6.2" ry="0.9" fill="#1060e8"/>
<path d="M674.9 199.9L682.1 194.2L692.4 190.6L693.4 192.1L683.1 195.7L677.9 199.9Z" fill="#ff8000"/>
<path d="M677.9 199.9L683.6 195.2L693.4 191.9L699.1 190.6L700.1 199.9Z" fill="#8c0000"/>
<path d="M691.3 173.1L696.5 174.1L700.1 190.6L695.4 190.6L694.9 182.4Z" fill="#f0e020"/>
<rect x="613.1" y="200.9" width="28.8" height="39.1" fill="#c0f040"/>
<path d="M622.3 201.9L641.9 201.9L641.9 211.2L634.7 214.3L625.4 213.3L622.3 209.1Z" fill="#ff4000"/>
<ellipse cx="617.2" cy="205.0" rx="4.1" ry="4.1" fill="#40d0e0"/>
<ellipse cx="617.2" cy="219.4" rx="4.6" ry="4.6" fill="#ff8000"/>
<path d="M613.1 227.7L626.4 231.8L641.9 227.7L641.9 240.0L613.1 240.0Z" fill="#28b0f0"/>
<ellipse cx="621.3" cy="234.4" rx="6.2" ry="1.9" fill="#1050e8"/>
<ellipse cx="630.6" cy="231.8" rx="5.7" ry="3.6" fill="#c0f040"/>
<rect x="641.9" y="200.9" width="20.6" height="13.4" fill="#c0f040"/>
<rect x="641.9" y="213.3" width="22.7" height="30.9" fill="#40e0d0"/>
<ellipse cx="647.0" cy="205.5" rx="4.1" ry="2.6" fill="#f0e020"/>
<rect x="661.5" y="200.9" width="35.5" height="23.7" fill="#30d0f0"/>
<ellipse cx="674.9" cy="206.0" rx="8.2" ry="1.9" fill="#1060e8"/>
<ellipse cx="668.7" cy="213.3" rx="5.1" ry="1.4" fill="#1060e8"/>
<ellipse cx="685.2" cy="216.3" rx="6.2" ry="4.1" fill="#60e8b0"/>
<ellipse cx="690.3" cy="206.6" rx="6.7" ry="3.6" fill="#8c0000"/>
<path d="M696.5 200.9L701.1 200.9L703.2 221.5L697.0 221.5Z" fill="#f0c020"/>
<ellipse cx="699.1" cy="207.1" rx="2.3" ry="4.1" fill="#8c0000"/>
<ellipse cx="657.3" cy="221.5" rx="4.1" ry="4.1" fill="#1878e8"/>
<ellipse cx="647.0" cy="242.1" rx="8.2" ry="3.1" fill="#c0f040"/>
<path d="M654.3 233.9L659.4 228.7L668.7 225.6L683.1 226.1L696.5 224.6L704.2 227.7L705.2 233.9L703.2 239.5L683.1 243.6L655.3 246.2L653.2 241.1Z" fill="#8c0000"/>
<ellipse cx="667.6" cy="236.7" rx="4.9" ry="4.3" fill="#40e0d0"/>
<ellipse cx="667.1" cy="231.8" rx="2.6" ry="1.9" fill="#60e8b0"/>
<ellipse cx="684.1" cy="229.7" rx="3.6" ry="2.3" fill="#ff6000"/>
<ellipse cx="654.8" cy="234.9" rx="2.3" ry="2.6" fill="#ff8000"/>
<path d="M613.1 238.0L652.2 241.1L652.2 247.8L613.1 252.9Z" fill="#40d8e0"/>
<ellipse cx="636.7" cy="244.4" rx="12.4" ry="2.3" fill="#c0f040"/>
<ellipse cx="619.2" cy="246.7" rx="6.2" ry="3.6" fill="#1060e8"/>
</g></g>
<g clip-path="url(#sw2)"><polygon points="1035.4,93.4 1110.3,93.4 1114.4,145.0 1117.5,174.4 1119.5,189.0 1124.9,233.3 1122.8,237.6 1104.1,241.7 1076.3,244.3 1073.2,245.8 1034.6,251.0" fill="#28c8f0"/><g filter="url(#bl)">
<rect x="1034.1" y="92.1" width="22.7" height="41.2" fill="#30d8f0"/>
<ellipse cx="1047.4" cy="115.7" rx="7.2" ry="15.4" fill="#70e8b0"/>
<rect x="1056.7" y="92.1" width="45.3" height="33.0" fill="#30d0f0"/>
<path d="M1056.7 96.2L1075.3 96.2L1071.1 110.6L1067.0 124.0L1056.7 124.0Z" fill="#a0e870"/>
<path d="M1083.5 94.1L1102.0 94.1L1103.1 124.0L1097.9 120.9L1089.7 106.5Z" fill="#1040e0"/>
<ellipse cx="1078.3" cy="112.7" rx="5.1" ry="2.3" fill="#1878e8"/>
<path d="M1101.0 92.1L1112.8 92.1L1117.0 153.9L1105.1 153.9L1103.1 125.0Z" fill="#1030e0"/>
<rect x="1056.7" y="125.0" width="47.4" height="26.8" fill="#30d0f0"/>
<ellipse cx="1063.9" cy="129.1" rx="6.2" ry="4.1" fill="#c0e850"/>
<ellipse cx="1062.9" cy="139.4" rx="6.2" ry="6.2" fill="#60e0c0"/>
<path d="M1104.1 129.1L1089.7 136.3L1078.3 147.7L1073.2 151.8L1104.1 151.8Z" fill="#1040e0"/>
<path d="M1104.1 133.3L1093.8 141.5L1087.6 151.8L1104.1 151.8Z" fill="#0818c8"/>
<rect x="1034.1" y="133.3" width="22.7" height="34.0" fill="#90e880"/>
<ellipse cx="1046.4" cy="148.7" rx="6.2" ry="3.1" fill="#e8e820"/>
<path d="M1034.1 161.1L1056.7 155.9L1056.7 167.2L1034.1 167.2Z" fill="#30c8e8"/>
<rect x="1056.7" y="151.8" width="49.4" height="23.7" fill="#0818c8"/>
<path d="M1078.3 175.5L1089.7 164.2L1104.1 160.0L1109.2 175.5Z" fill="#1050e8"/>
<ellipse cx="1062.9" cy="155.9" rx="6.2" ry="3.6" fill="#30b0f0"/>
<path d="M1105.1 153.9L1117.0 153.9L1119.0 175.5L1108.7 175.5Z" fill="#1858e8"/>
<rect x="1034.1" y="167.2" width="36.0" height="8.2" fill="#0828d0"/>
<rect x="1034.1" y="170.0" width="36.0" height="29.9" fill="#0830d8"/>
<ellipse cx="1047.4" cy="188.5" rx="9.3" ry="5.1" fill="#28b0f0"/>
<ellipse cx="1057.7" cy="195.7" rx="9.3" ry="3.1" fill="#28c0f0"/>
<ellipse cx="1041.3" cy="195.7" rx="6.2" ry="3.1" fill="#28c0f0"/>
<rect x="1070.1" y="170.0" width="40.2" height="5.1" fill="#0828d0"/>
<ellipse cx="1098.9" cy="172.1" rx="9.3" ry="2.6" fill="#1858e8"/>
<rect x="1070.1" y="176.2" width="47.4" height="23.7" fill="#60e0b0"/>
<path d="M1070.1 176.2L1093.8 176.2L1081.4 182.4L1070.1 186.5Z" fill="#0830d8"/>
<path d="M1070.1 186.5L1081.4 182.4L1095.9 176.7L1104.1 177.2L1083.5 187.5L1070.1 192.7Z" fill="#30c8f0"/>
<path d="M1071.1 197.3L1085.6 188.5L1104.1 179.3L1115.4 180.3L1117.0 198.8Z" fill="#f0e020"/>
<path d="M1089.7 197.3L1097.9 188.5L1110.3 183.4L1115.9 185.4L1117.0 198.3L1093.8 198.3Z" fill="#ff9800"/>
<ellipse cx="1080.4" cy="197.6" rx="8.2" ry="1.4" fill="#30c8f0"/>
<path d="M1111.3 172.1L1117.5 173.1L1121.1 198.8L1117.0 198.8L1115.9 182.4Z" fill="#d0e830"/>
<ellipse cx="1119.3" cy="198.0" rx="1.4" ry="2.5" fill="#8c0000"/>
<rect x="1034.1" y="200.9" width="28.8" height="39.1" fill="#38d0e0"/>
<rect x="1034.1" y="200.9" width="4.1" height="39.1" fill="#1050e8"/>
<ellipse cx="1044.4" cy="206.0" rx="7.2" ry="3.1" fill="#28a0f0"/>
<ellipse cx="1049.5" cy="219.4" rx="7.2" ry="6.2" fill="#60e0b8"/>
<ellipse cx="1043.3" cy="227.7" rx="6.2" ry="2.6" fill="#2090f0"/>
<ellipse cx="1055.7" cy="211.2" rx="4.1" ry="5.1" fill="#58e0c0"/>
<ellipse cx="1052.6" cy="233.9" rx="7.2" ry="2.1" fill="#2898f0"/>
<path d="M1034.1 231.8L1044.4 235.9L1062.9 238.0L1062.9 240.0L1034.1 240.0Z" fill="#1040e0"/>
<rect x="1062.9" y="200.9" width="11.3" height="20.6" fill="#30c8f0"/>
<path d="M1073.2 205.0L1081.9 205.0L1081.9 219.4L1073.2 219.4Z" fill="#f0c020"/>
<ellipse cx="1077.3" cy="213.3" rx="2.9" ry="6.2" fill="#ff9000"/>
<rect x="1082.5" y="200.9" width="35.5" height="23.7" fill="#30c8f0"/>
<ellipse cx="1088.6" cy="207.1" rx="5.1" ry="4.1" fill="#f0c020"/>
<ellipse cx="1098.9" cy="205.0" rx="9.3" ry="2.3" fill="#c0e850"/>
<ellipse cx="1102.0" cy="218.4" rx="4.6" ry="3.1" fill="#ff8000"/>
<ellipse cx="1111.3" cy="219.4" rx="4.3" ry="3.1" fill="#d01008"/>
<ellipse cx="1088.6" cy="219.9" rx="2.6" ry="1.9" fill="#8c0000"/>
<path d="M1063.9 219.4L1075.3 219.4L1075.3 242.1L1069.1 244.7L1065.0 235.9Z" fill="#f0e020"/>
<path d="M1070.1 227.7L1076.3 221.5L1085.6 222.5L1089.7 227.7L1085.6 235.9L1077.3 242.1L1070.1 241.1Z" fill="#ff6000"/>
<path d="M1075.3 227.7L1080.4 222.5L1087.6 223.6L1088.6 229.7L1083.5 233.9L1077.3 233.9Z" fill="#a80800"/>
<path d="M1085.6 231.8L1093.8 227.7L1106.2 227.7L1104.1 242.6L1085.6 243.6Z" fill="#1878e8"/>
<ellipse cx="1097.9" cy="229.7" rx="6.2" ry="2.6" fill="#30c8f0"/>
<ellipse cx="1093.8" cy="239.0" rx="7.2" ry="3.1" fill="#1040e0"/>
<path d="M1104.1 242.6L1103.1 235.9L1108.2 227.7L1110.3 221.5L1121.6 219.4L1125.2 227.7L1125.7 235.9L1123.1 240.5Z" fill="#8c0000"/>
<path d="M1034.1 231.8L1062.9 239.0L1070.1 246.7L1034.1 253.9Z" fill="#0820d0"/>
<ellipse cx="1061.4" cy="244.4" rx="8.2" ry="1.9" fill="#28c0f0"/>
<ellipse cx="1076.3" cy="243.3" rx="6.2" ry="1.9" fill="#ff9000"/>
</g></g>
<circle cx="1059.8" cy="96.2" r="4.0" fill="#0a0aa0"/>
<circle cx="1076.3" cy="95.7" r="4.0" fill="#0a0aa0"/>
<circle cx="1089.7" cy="95.1" r="4.0" fill="#1040e0"/>
<circle cx="1097.9" cy="94.9" r="4.0" fill="#1040e0"/>
<circle cx="1107.2" cy="94.9" r="4.0" fill="#1030e0"/>
<g filter="url(#bl2)">
<path d="M225.0 513.2L227.1 504.7L231.2 497.5L235.3 490.3L233.3 484.1L241.5 483.6L248.7 490.3L248.7 498.5L254.9 500.6L258.0 508.8L258.5 513.2Z" fill="#5cecc0"/>
<ellipse cx="241.5" cy="492.4" rx="5.1" ry="6.2" fill="#80f080"/>
<ellipse cx="253.9" cy="509.9" rx="3.1" ry="3.1" fill="#c0f040"/>
<path d="M196.2 522.7L213.7 519.1L213.7 525.3L196.2 525.3Z" fill="#40e8e0"/>
<path d="M215.7 516.0L261.1 516.0L262.1 523.3L271.4 531.5L273.4 541.8L274.4 554.2L268.3 558.3L266.2 565.5L210.6 565.5L208.5 552.1L207.5 537.7L198.2 535.6L196.2 526.3L213.7 525.3Z" fill="#80f888"/>
<ellipse cx="240.5" cy="526.3" rx="5.1" ry="3.6" fill="#d0f840"/>
<ellipse cx="248.7" cy="518.1" rx="4.1" ry="2.1" fill="#c8f848"/>
<ellipse cx="233.3" cy="551.1" rx="6.2" ry="3.1" fill="#d8f838"/>
<ellipse cx="218.8" cy="535.6" rx="5.1" ry="3.1" fill="#b8f858"/>
<ellipse cx="236.3" cy="560.8" rx="4.1" ry="4.1" fill="#d0f840"/>
<ellipse cx="226.0" cy="545.9" rx="4.1" ry="3.1" fill="#40e8d0"/>
<ellipse cx="239.4" cy="534.6" rx="3.1" ry="2.6" fill="#40e8d0"/>
<ellipse cx="217.8" cy="520.2" rx="3.1" ry="4.1" fill="#20d0f0"/>
<path d="M210.6 559.0L226.0 559.0L226.0 573.4L220.9 577.5L213.7 572.4Z" fill="#80f888"/>
<rect x="229.1" y="559.0" width="35.0" height="5.1" fill="#a0f860"/>
<ellipse cx="237.4" cy="562.1" rx="8.2" ry="2.1" fill="#d0f840"/>
</g>
<circle cx="234.3" cy="498.5" r="4.0" fill="#20d8f0"/>
<circle cx="236.3" cy="505.2" r="4.0" fill="#20d8f0"/>
<circle cx="243.6" cy="504.2" r="4.0" fill="#20d8f0"/>
<circle cx="250.2" cy="505.7" r="4.0" fill="#30e0e0"/>
<circle cx="217.8" cy="487.2" r="4.0" fill="#20c8f0"/>
<circle cx="254.9" cy="486.2" r="4.0" fill="#40e8d0"/>
<circle cx="254.9" cy="493.4" r="4.0" fill="#40e8d0"/>
<circle cx="258.0" cy="520.2" r="4.0" fill="#1090f0"/>
<circle cx="264.2" cy="523.3" r="4.0" fill="#1080f0"/>
<circle cx="201.3" cy="534.6" r="4.0" fill="#20e0e8"/>
<circle cx="231.2" cy="570.3" r="4.0" fill="#c0f040"/>
<circle cx="236.3" cy="569.3" r="4.0" fill="#c0f040"/>
<circle cx="242.5" cy="569.3" r="4.0" fill="#a0f060"/>
<circle cx="224.0" cy="569.8" r="4.0" fill="#60f0a0"/>
<circle cx="223.0" cy="577.5" r="4.0" fill="#40e0d0"/>
<circle cx="219.9" cy="579.6" r="4.0" fill="#30d0e8"/>
<circle cx="214.7" cy="580.6" r="4.0" fill="#20c0f0"/>
<circle cx="216.8" cy="583.9" r="4.0" fill="#1090f0"/>
<circle cx="252.8" cy="580.6" r="4.0" fill="#30c8f0"/>
<circle cx="237.4" cy="582.7" r="4.0" fill="#2090f0"/>
<circle cx="241.5" cy="584.7" r="4.0" fill="#20a8f0"/>
<circle cx="247.7" cy="583.7" r="4.0" fill="#1060e0"/>
<circle cx="255.9" cy="596.0" r="4.0" fill="#e8e840"/>
<circle cx="250.8" cy="594.0" r="4.0" fill="#0a0aa0"/>
<circle cx="251.8" cy="589.9" r="4.0" fill="#0a0aa0"/>
<circle cx="260.0" cy="591.9" r="4.0" fill="#0a0aa0"/>
<circle cx="261.1" cy="587.8" r="4.0" fill="#0a0aa0"/>
<circle cx="243.6" cy="595.0" r="4.0" fill="#28c0f0"/>
<circle cx="245.6" cy="599.1" r="4.0" fill="#2090f0"/>
<circle cx="243.6" cy="602.2" r="4.0" fill="#1050e8"/>
<circle cx="232.2" cy="596.6" r="4.0" fill="#1050e8"/>
<circle cx="229.1" cy="597.1" r="4.0" fill="#1040e0"/>
<circle cx="225.0" cy="596.6" r="4.0" fill="#1020d0"/>
<circle cx="220.9" cy="598.1" r="4.0" fill="#1020d0"/>
<circle cx="216.8" cy="600.2" r="4.0" fill="#1010c0"/>
<circle cx="212.7" cy="602.2" r="4.0" fill="#1010c0"/>
<circle cx="213.7" cy="610.5" r="4.0" fill="#20c8f0"/>
<circle cx="211.6" cy="613.6" r="4.0" fill="#60e8c0"/>
<circle cx="237.4" cy="600.7" r="4.0" fill="#28c0f0"/>
<circle cx="235.8" cy="605.3" r="4.0" fill="#600010"/>
<circle cx="230.2" cy="606.3" r="4.0" fill="#60f0a0"/>
<circle cx="226.0" cy="633.6" r="4.0" fill="#ff9000"/>
<circle cx="229.1" cy="630.0" r="4.0" fill="#d01808"/>
<circle cx="225.0" cy="625.9" r="4.0" fill="#28c8f0"/>
<circle cx="233.3" cy="623.9" r="4.0" fill="#a01000"/>
<circle cx="228.1" cy="621.3" r="4.0" fill="#a01000"/>
<circle cx="231.2" cy="619.2" r="4.0" fill="#ff9000"/>
<circle cx="234.3" cy="615.6" r="4.0" fill="#60f0a0"/>
<circle cx="243.6" cy="630.0" r="4.0" fill="#0a0aa0"/>
<circle cx="240.5" cy="630.0" r="4.0" fill="#900000"/>
<circle cx="247.7" cy="631.1" r="4.0" fill="#1060e8"/>
<circle cx="241.5" cy="622.8" r="4.0" fill="#0a0aa0"/>
<circle cx="253.9" cy="623.9" r="4.0" fill="#30c8f0"/>
<circle cx="243.6" cy="624.4" r="4.0" fill="#f0f0d0"/>
<circle cx="247.7" cy="623.3" r="4.0" fill="#f0e020"/>
<circle cx="250.8" cy="621.8" r="4.0" fill="#ff9000"/>
<circle cx="248.7" cy="617.7" r="4.0" fill="#c01800"/>
<circle cx="201.3" cy="620.8" r="4.0" fill="#40f0c0"/>
<circle cx="203.4" cy="623.9" r="4.0" fill="#40f0c0"/>
<circle cx="211.6" cy="624.9" r="4.0" fill="#20c8f0"/>
<circle cx="208.5" cy="631.1" r="4.0" fill="#20c0f0"/>
<circle cx="195.1" cy="631.1" r="4.0" fill="#1050f0"/>
<circle cx="199.3" cy="634.2" r="4.0" fill="#1050f0"/>
<circle cx="196.2" cy="636.7" r="4.0" fill="#1060f0"/>
<circle cx="203.4" cy="636.4" r="4.0" fill="#2080f0"/>
<circle cx="215.7" cy="633.1" r="4.0" fill="#1040e8"/>
<g filter="url(#bl2)">
<path d="M646.0 513.2L648.1 504.7L652.2 497.5L656.3 490.3L654.3 484.1L662.5 483.6L669.7 490.3L669.7 498.5L675.9 500.6L679.0 508.8L679.5 513.2Z" fill="#50f0c0"/>
<ellipse cx="656.3" cy="495.4" rx="4.1" ry="8.2" fill="#20c8f0"/>
<ellipse cx="654.3" cy="505.7" rx="5.1" ry="5.1" fill="#30d8e8"/>
<ellipse cx="664.6" cy="493.4" rx="4.1" ry="5.1" fill="#80f080"/>
<ellipse cx="674.9" cy="509.9" rx="3.1" ry="2.6" fill="#c0f040"/>
<path d="M617.2 522.7L634.7 519.1L634.7 525.3L617.2 525.3Z" fill="#30c8f0"/>
<rect x="636.7" y="516.0" width="46.3" height="24.7" fill="#40e8c8"/>
<path d="M636.7 527.4L652.2 526.3L666.6 531.5L666.6 540.8L636.7 540.8Z" fill="#c0f040"/>
<path d="M666.6 519.1L683.1 518.1L683.1 540.8L672.8 540.8L666.6 531.5Z" fill="#20c0f0"/>
<ellipse cx="679.0" cy="521.2" rx="4.1" ry="3.1" fill="#2080f0"/>
<rect x="614.1" y="525.3" width="21.6" height="31.9" fill="#70f090"/>
<rect x="614.1" y="525.3" width="21.6" height="6.2" fill="#30d0e8"/>
<ellipse cx="616.1" cy="541.8" rx="3.1" ry="10.3" fill="#40e0d0"/>
<path d="M636.7 541.8L672.8 541.8L683.1 545.9L687.2 565.5L636.7 565.5Z" fill="#f0f020"/>
<path d="M648.1 565.5L660.4 556.2L683.1 543.9L685.2 552.1L672.8 560.3L664.6 565.5Z" fill="#ff8000"/>
<path d="M654.3 565.5L668.7 554.2L683.1 545.9L684.1 550.0L670.7 558.3L660.4 565.5Z" fill="#e82000"/>
<ellipse cx="691.3" cy="550.0" rx="3.6" ry="4.1" fill="#ff9000"/>
<ellipse cx="691.3" cy="556.2" rx="3.1" ry="2.6" fill="#c0f040"/>
<path d="M685.2 526.3L692.4 531.5L694.4 545.9L685.2 545.9Z" fill="#30e0e0"/>
<rect x="614.1" y="558.3" width="33.0" height="7.2" fill="#c0f040"/>
<ellipse cx="627.5" cy="563.6" rx="4.1" ry="2.1" fill="#30d0f0"/>
<ellipse cx="637.8" cy="563.0" rx="4.1" ry="1.2" fill="#ff9000"/>
<rect x="614.1" y="559.0" width="33.0" height="30.4" fill="#30d0f0"/>
<path d="M621.3 559.0L647.0 559.0L647.0 570.3L631.6 580.6L621.3 588.8L619.2 575.4Z" fill="#a0f060"/>
<path d="M629.5 563.1L647.0 560.0L647.0 572.4L626.4 587.8L623.4 585.7Z" fill="#f0e820"/>
<path d="M621.3 589.4L631.6 579.6L647.0 569.3L647.0 576.5L636.7 584.7L629.5 589.4Z" fill="#ff5000"/>
<path d="M638.8 589.9L647.6 582.1L647.6 589.9Z" fill="#ffffff"/>
<ellipse cx="615.1" cy="572.4" rx="2.1" ry="13.4" fill="#30d0f0"/>
<rect x="650.1" y="559.0" width="35.0" height="5.7" fill="#ff8000"/>
<ellipse cx="668.7" cy="562.1" rx="12.4" ry="1.5" fill="#e82000"/>
<path d="M650.1 566.2L666.6 566.2L658.4 572.4L650.1 577.5Z" fill="#ff6000"/>
<path d="M650.1 577.5L658.4 572.4L666.6 566.2L672.8 566.2L650.1 582.7Z" fill="#f0e820"/>
<path d="M662.5 591.9L689.3 591.9L687.2 596.0L674.9 598.1L668.7 605.3L662.5 605.3Z" fill="#50f0c0"/>
<ellipse cx="666.6" cy="601.2" rx="4.1" ry="4.1" fill="#a0f060"/>
<ellipse cx="664.6" cy="595.5" rx="2.1" ry="3.6" fill="#f0c020"/>
<path d="M617.7 591.4L628.5 591.4L626.4 603.3L623.4 613.6L631.6 617.7L634.7 626.9L617.7 626.9Z" fill="#48e0d8"/>
<ellipse cx="622.3" cy="621.8" rx="4.6" ry="3.6" fill="#d0f040"/>
</g>
<circle cx="638.8" cy="487.2" r="4.0" fill="#2090f0"/>
<circle cx="656.3" cy="485.1" r="4.0" fill="#30d0f0"/>
<circle cx="675.9" cy="486.2" r="4.0" fill="#40e8d0"/>
<circle cx="675.9" cy="493.4" r="4.0" fill="#40e8d0"/>
<circle cx="658.4" cy="582.1" r="4.0" fill="#40e8c0"/>
<circle cx="662.5" cy="583.2" r="4.0" fill="#40e8c0"/>
<circle cx="672.8" cy="581.1" r="4.0" fill="#80f080"/>
<circle cx="668.2" cy="583.5" r="4.0" fill="#1050e8"/>
<circle cx="687.2" cy="585.7" r="4.0" fill="#30c0f0"/>
<circle cx="679.5" cy="586.3" r="4.0" fill="#0818c0"/>
<circle cx="692.4" cy="584.7" r="4.0" fill="#0a0aa0"/>
<circle cx="691.3" cy="590.9" r="4.0" fill="#0a0aa0"/>
<circle cx="621.3" cy="595.0" r="4.0" fill="#30d0f0"/>
<circle cx="624.4" cy="598.1" r="4.0" fill="#30c8f0"/>
<circle cx="645.0" cy="594.0" r="4.0" fill="#1030d0"/>
<circle cx="638.8" cy="595.0" r="4.0" fill="#1040e0"/>
<circle cx="629.5" cy="600.2" r="4.0" fill="#1040e0"/>
<circle cx="632.6" cy="605.3" r="4.0" fill="#6040d0"/>
<circle cx="634.7" cy="602.2" r="4.0" fill="#ff5000"/>
<circle cx="638.8" cy="608.4" r="4.0" fill="#e82000"/>
<circle cx="634.7" cy="611.5" r="4.0" fill="#30d8e8"/>
<circle cx="627.5" cy="611.5" r="4.0" fill="#ff5000"/>
<circle cx="620.3" cy="609.4" r="4.0" fill="#1030e0"/>
<circle cx="624.4" cy="615.6" r="4.0" fill="#1050e8"/>
<circle cx="620.3" cy="617.7" r="4.0" fill="#80f080"/>
<circle cx="621.3" cy="621.8" r="4.0" fill="#f0e820"/>
<circle cx="626.4" cy="623.9" r="4.0" fill="#2080f0"/>
<circle cx="631.6" cy="622.8" r="4.0" fill="#2080f0"/>
<circle cx="649.1" cy="598.1" r="4.0" fill="#40e8c0"/>
<circle cx="656.3" cy="605.8" r="4.0" fill="#e02000"/>
<circle cx="657.3" cy="603.3" r="4.0" fill="#f0e820"/>
<circle cx="651.2" cy="606.3" r="4.0" fill="#ff7000"/>
<circle cx="645.0" cy="632.1" r="4.0" fill="#ff9000"/>
<circle cx="651.2" cy="630.0" r="4.0" fill="#900000"/>
<circle cx="647.0" cy="625.9" r="4.0" fill="#ff9000"/>
<circle cx="654.3" cy="625.9" r="4.0" fill="#ff9000"/>
<circle cx="649.1" cy="621.3" r="4.0" fill="#900000"/>
<circle cx="652.2" cy="619.2" r="4.0" fill="#f0e820"/>
<circle cx="655.3" cy="615.6" r="4.0" fill="#80f080"/>
<circle cx="669.7" cy="630.0" r="4.0" fill="#e02000"/>
<circle cx="658.4" cy="629.0" r="4.0" fill="#900000"/>
<circle cx="663.5" cy="626.9" r="4.0" fill="#2090f0"/>
<circle cx="672.8" cy="625.9" r="4.0" fill="#c0f040"/>
<circle cx="662.5" cy="621.8" r="4.0" fill="#30c8f0"/>
<circle cx="666.6" cy="622.8" r="4.0" fill="#c0f040"/>
<circle cx="673.8" cy="618.7" r="4.0" fill="#900000"/>
<circle cx="667.6" cy="617.7" r="4.0" fill="#1040e0"/>
<circle cx="617.2" cy="631.1" r="4.0" fill="#20c0f0"/>
<circle cx="621.3" cy="634.2" r="4.0" fill="#20c0f0"/>
<circle cx="617.2" cy="636.7" r="4.0" fill="#20c0f0"/>
<circle cx="624.4" cy="636.7" r="4.0" fill="#30c8f0"/>
<circle cx="626.4" cy="632.1" r="4.0" fill="#20c0f0"/>
<circle cx="631.6" cy="631.1" r="4.0" fill="#20c0f0"/>
<circle cx="636.7" cy="632.6" r="4.0" fill="#1050e8"/>
<circle cx="615.1" cy="596.0" r="4.0" fill="#2080f0"/>
<g filter="url(#bl2)">
<path d="M1067.0 513.2L1069.1 504.7L1073.2 497.5L1077.3 490.3L1075.3 484.1L1083.5 483.6L1090.7 490.3L1090.7 498.5L1096.9 500.6L1100.0 508.8L1100.5 513.2Z" fill="#70f0a0"/>
<path d="M1067.0 513.2L1069.1 504.7L1073.2 497.5L1077.3 492.4L1081.4 498.5L1080.4 506.8L1077.3 513.2Z" fill="#30e0e8"/>
<path d="M1081.4 486.2L1100.0 486.2L1103.1 513.2L1079.4 513.2L1085.6 500.6Z" fill="#c0f040"/>
<path d="M1080.4 489.3L1085.6 489.3L1103.1 511.9L1093.8 511.9Z" fill="#ff9800"/>
<ellipse cx="1093.8" cy="510.1" rx="3.1" ry="0.9" fill="#e03000"/>
<path d="M1100.0 484.1L1111.3 484.1L1114.4 535.6L1116.4 556.2L1110.3 558.3L1106.2 541.8L1104.1 523.3L1103.1 515.0Z" fill="#88f078"/>
<rect x="1057.7" y="516.0" width="46.3" height="24.7" fill="#80f080"/>
<ellipse cx="1083.5" cy="525.3" rx="15.4" ry="7.2" fill="#d0f040"/>
<path d="M1071.1 531.5L1081.4 521.2L1095.9 517.1L1097.9 521.2L1085.6 527.4L1075.3 532.5Z" fill="#ff9800"/>
<ellipse cx="1060.3" cy="519.1" rx="2.6" ry="3.6" fill="#20a0f0"/>
<path d="M1038.2 522.7L1055.7 518.1L1055.7 525.3L1038.2 525.3Z" fill="#60e8c0"/>
<ellipse cx="1050.5" cy="520.0" rx="1.4" ry="1.4" fill="#c02000"/>
<rect x="1035.1" y="524.3" width="21.6" height="33.0" fill="#60e8c0"/>
<ellipse cx="1047.4" cy="533.6" rx="6.2" ry="4.1" fill="#d0f040"/>
<ellipse cx="1043.3" cy="539.7" rx="3.6" ry="1.6" fill="#ff4000" transform="rotate(-30 1043.3 539.7)"/>
<ellipse cx="1045.4" cy="552.1" rx="4.1" ry="2.6" fill="#ff9800"/>
<ellipse cx="1050.5" cy="540.8" rx="3.6" ry="2.6" fill="#30e0e8"/>
<ellipse cx="1043.3" cy="527.4" rx="4.1" ry="2.1" fill="#30d0f0"/>
<ellipse cx="1035.6" cy="552.1" rx="1.2" ry="10.3" fill="#f0e020"/>
<path d="M1057.7 541.8L1093.8 541.8L1104.1 545.9L1108.2 565.5L1057.7 565.5Z" fill="#80f080"/>
<path d="M1073.2 561.4L1104.1 550.0L1106.2 554.2L1078.3 565.0Z" fill="#e0f030"/>
<ellipse cx="1101.0" cy="548.0" rx="3.1" ry="2.6" fill="#ff9800"/>
<rect x="1035.1" y="558.3" width="33.0" height="7.2" fill="#80f080"/>
<ellipse cx="1041.8" cy="562.1" rx="1.9" ry="1.9" fill="#ff9800"/>
<rect x="1035.1" y="559.0" width="33.0" height="30.4" fill="#70f0a0"/>
<path d="M1054.7 568.2L1068.0 566.2L1068.0 589.4L1057.7 589.4Z" fill="#40e8d0"/>
<ellipse cx="1046.4" cy="578.5" rx="6.2" ry="4.1" fill="#2070f0"/>
<ellipse cx="1044.4" cy="584.9" rx="5.1" ry="1.1" fill="#1050e8"/>
<ellipse cx="1057.2" cy="586.0" rx="4.6" ry="1.1" fill="#ff7000"/>
<rect x="1034.1" y="559.0" width="3.1" height="7.2" fill="#f0c020"/>
<rect x="1071.1" y="559.0" width="35.0" height="5.1" fill="#a0f060"/>
<path d="M1071.1 566.2L1089.7 566.2L1075.3 576.5L1071.1 577.5Z" fill="#70f0a0"/>
<path d="M1083.5 591.9L1114.4 591.9L1110.3 599.1L1097.9 603.3L1089.7 608.4L1083.5 607.4Z" fill="#80f0a0"/>
<path d="M1092.8 598.1L1104.1 594.0L1108.2 595.5L1095.9 601.2Z" fill="#ff7000"/>
<ellipse cx="1108.2" cy="593.5" rx="4.6" ry="1.6" fill="#f0e020"/>
<ellipse cx="1086.6" cy="596.0" rx="2.6" ry="4.1" fill="#f0c020"/>
<ellipse cx="1113.4" cy="593.6" rx="2.1" ry="1.1" fill="#e03000"/>
<rect x="1038.2" y="590.9" width="24.2" height="36.0" fill="#50e8c8"/>
<ellipse cx="1054.7" cy="618.9" rx="2.6" ry="1.4" fill="#ffffff"/>
<rect x="1063.9" y="595.0" width="12.4" height="6.2" fill="#30d8e8"/>
<ellipse cx="1100.0" cy="621.8" rx="3.1" ry="2.6" fill="#a0f060"/>
<path d="M1063.9 623.9L1073.2 625.9L1075.3 634.2L1063.9 635.7Z" fill="#a00800"/>
<path d="M1073.2 631.1L1093.8 630.0L1093.8 633.3L1073.2 635.4Z" fill="#e04000"/>
<ellipse cx="1080.4" cy="632.3" rx="2.6" ry="1.1" fill="#0a0aa0"/>
<ellipse cx="1089.7" cy="631.3" rx="2.6" ry="0.9" fill="#f0e020"/>
<path d="M1034.1 620.8L1038.2 620.8L1047.4 632.1L1047.4 640.8L1034.1 642.9Z" fill="#40f0c0"/>
<path d="M1044.4 630.0L1062.9 630.0L1062.9 636.4L1047.4 638.8Z" fill="#20c8f0"/>
</g>
<circle cx="1090.2" cy="618.7" r="8.0" fill="#0a0aa0"/>
<circle cx="1094.8" cy="621.8" r="5.0" fill="#0a0aa0"/>
<circle cx="1085.6" cy="616.1" r="5.0" fill="#0a0aa0"/>
<circle cx="1059.3" cy="486.2" r="3.9" fill="#0a0aa0"/>
<circle cx="1076.3" cy="485.1" r="4.0" fill="#20b0f0"/>
<circle cx="1078.3" cy="489.8" r="4.0" fill="#20b0f0"/>
<circle cx="1092.8" cy="497.5" r="4.0" fill="#30d0e8"/>
<circle cx="1035.6" cy="537.2" r="4.0" fill="#ff6000"/>
<circle cx="1073.2" cy="578.5" r="4.0" fill="#2080f0"/>
<circle cx="1080.4" cy="582.1" r="4.0" fill="#30d8e8"/>
<circle cx="1083.5" cy="584.7" r="4.0" fill="#30d0e8"/>
<circle cx="1088.6" cy="580.1" r="4.0" fill="#c0f040"/>
<circle cx="1092.8" cy="583.7" r="4.0" fill="#28b8f0"/>
<circle cx="1098.9" cy="583.7" r="4.0" fill="#1040e8"/>
<circle cx="1106.2" cy="583.5" r="4.0" fill="#ff9000"/>
<circle cx="1111.3" cy="584.2" r="4.0" fill="#900000"/>
<circle cx="1118.5" cy="584.7" r="4.0" fill="#1040e8"/>
<circle cx="1119.0" cy="590.9" r="4.0" fill="#40e8c0"/>
<circle cx="1114.4" cy="598.1" r="4.0" fill="#1020d0"/>
<circle cx="1119.5" cy="596.6" r="4.0" fill="#1030d8"/>
<circle cx="1094.8" cy="605.3" r="4.0" fill="#30d0e8"/>
<circle cx="1100.0" cy="610.5" r="4.0" fill="#30d8e8"/>
<circle cx="1089.7" cy="605.3" r="4.0" fill="#30c8f0"/>
<circle cx="1043.3" cy="608.4" r="4.0" fill="#1050f0"/>
<circle cx="1047.4" cy="606.9" r="4.0" fill="#1050f0"/>
<circle cx="1040.2" cy="611.5" r="4.0" fill="#2060f0"/>
<circle cx="1052.6" cy="598.1" r="4.0" fill="#2080f0"/>
<circle cx="1047.4" cy="612.5" r="4.0" fill="#ff9800"/>
<circle cx="1058.8" cy="604.3" r="4.0" fill="#ff4000"/>
<circle cx="1058.8" cy="609.9" r="4.0" fill="#f0e020"/>
<circle cx="1043.3" cy="603.3" r="4.0" fill="#f0c020"/>
<circle cx="1057.7" cy="621.8" r="4.0" fill="#2090f0"/>
<circle cx="1049.5" cy="621.8" r="4.0" fill="#2090f0"/>
<circle cx="1043.3" cy="621.8" r="4.0" fill="#ff9800"/>
<circle cx="1055.7" cy="596.0" r="4.0" fill="#70f0a0"/>
<circle cx="1036.6" cy="611.0" r="4.0" fill="#2050e0"/>
<circle cx="1035.6" cy="617.7" r="4.0" fill="#d02000"/>
<circle cx="1079.4" cy="596.0" r="4.0" fill="#2050e0"/>
<circle cx="1072.2" cy="606.3" r="4.0" fill="#ff9800"/>
<circle cx="1078.3" cy="605.3" r="4.0" fill="#f0e020"/>
<circle cx="1075.8" cy="613.6" r="4.0" fill="#0a0aa0"/>
<circle cx="1077.8" cy="615.1" r="2.4" fill="#40e8c0"/>
<circle cx="1070.1" cy="620.8" r="4.0" fill="#c0f040"/>
<circle cx="1076.3" cy="625.9" r="4.0" fill="#1020c0"/>
<circle cx="1085.6" cy="626.4" r="4.0" fill="#30c8f0"/>
<circle cx="1059.8" cy="631.6" r="4.0" fill="#1040e0"/>
<rect x="195.6" y="96.7" width="234.1" height="212.6" fill="none" stroke="#262626" stroke-width="0.9"/>
<g transform="translate(195.6 96.7) scale(1.0000 1.0000)"><g clip-path="url(#boxclip)"><use href="#usmap"/></g></g>
<rect x="441.4" y="95.2" width="23.3" height="215.3" fill="url(#jet)" stroke="#262626" stroke-width="0.7"/>
<text x="215.9" y="77.0" font-size="13.8" font-weight="bold" text-anchor="start" fill="#262626" stroke="#262626" stroke-width="0.35" textLength="23.8" lengthAdjust="spacingAndGlyphs">100</text><text x="252.7" y="77.0" font-size="13.8" font-weight="bold" text-anchor="start" fill="#262626" stroke="#262626" stroke-width="0.35" textLength="13.0" lengthAdjust="spacingAndGlyphs">W</text><circle cx="245.0" cy="64.3" r="1.25" fill="none" stroke="#262626" stroke-width="0.85"/><text x="284.7" y="77.0" font-size="13.8" font-weight="bold" text-anchor="start" fill="#262626" stroke="#262626" stroke-width="0.35" textLength="16.2" lengthAdjust="spacingAndGlyphs">90</text><text x="313.9" y="77.0" font-size="13.8" font-weight="bold" text-anchor="start" fill="#262626" stroke="#262626" stroke-width="0.35" textLength="13.0" lengthAdjust="spacingAndGlyphs">W</text><circle cx="305.6" cy="64.3" r="1.25" fill="none" stroke="#262626" stroke-width="0.85"/><text x="348.9" y="77.0" font-size="13.8" font-weight="bold" text-anchor="start" fill="#262626" stroke="#262626" stroke-width="0.35" textLength="16.4" lengthAdjust="spacingAndGlyphs">80</text><text x="378.0" y="77.0" font-size="13.8" font-weight="bold" text-anchor="start" fill="#262626" stroke="#262626" stroke-width="0.35" textLength="12.8" lengthAdjust="spacingAndGlyphs">W</text><circle cx="369.9" cy="64.3" r="1.25" fill="none" stroke="#262626" stroke-width="0.85"/><text x="412.1" y="77.0" font-size="13.8" font-weight="bold" text-anchor="start" fill="#262626" stroke="#262626" stroke-width="0.35" textLength="15.6" lengthAdjust="spacingAndGlyphs">70</text><text x="441.1" y="77.0" font-size="13.8" font-weight="bold" text-anchor="start" fill="#262626" stroke="#262626" stroke-width="0.35" textLength="12.6" lengthAdjust="spacingAndGlyphs">W</text><circle cx="432.5" cy="64.3" r="1.25" fill="none" stroke="#262626" stroke-width="0.85"/><text x="146.1" y="113.8" font-size="13.8" font-weight="bold" text-anchor="start" fill="#262626" stroke="#262626" stroke-width="0.35" textLength="17.6" lengthAdjust="spacingAndGlyphs">48</text><text x="175.7" y="113.8" font-size="13.8" font-weight="bold" text-anchor="start" fill="#262626" stroke="#262626" stroke-width="0.35" textLength="9.5" lengthAdjust="spacingAndGlyphs">N</text><circle cx="167.9" cy="100.7" r="1.25" fill="none" stroke="#262626" stroke-width="0.85"/><text x="146.1" y="131.0" font-size="13.8" font-weight="bold" text-anchor="start" fill="#262626" stroke="#262626" stroke-width="0.35" textLength="17.6" lengthAdjust="spacingAndGlyphs">46</text><text x="175.7" y="131.0" font-size="13.8" font-weight="bold" text-anchor="start" fill="#262626" stroke="#262626" stroke-width="0.35" textLength="9.5" lengthAdjust="spacingAndGlyphs">N</text><circle cx="167.9" cy="117.9" r="1.25" fill="none" stroke="#262626" stroke-width="0.85"/><text x="146.1" y="148.3" font-size="13.8" font-weight="bold" text-anchor="start" fill="#262626" stroke="#262626" stroke-width="0.35" textLength="17.6" lengthAdjust="spacingAndGlyphs">44</text><text x="175.7" y="148.3" font-size="13.8" font-weight="bold" text-anchor="start" fill="#262626" stroke="#262626" stroke-width="0.35" textLength="9.5" lengthAdjust="spacingAndGlyphs">N</text><circle cx="167.9" cy="135.2" r="1.25" fill="none" stroke="#262626" stroke-width="0.85"/><text x="146.1" y="167.3" font-size="13.8" font-weight="bold" text-anchor="start" fill="#262626" stroke="#262626" stroke-width="0.35" textLength="17.6" lengthAdjust="spacingAndGlyphs">42</text><text x="175.7" y="167.3" font-size="13.8" font-weight="bold" text-anchor="start" fill="#262626" stroke="#262626" stroke-width="0.35" textLength="9.5" lengthAdjust="spacingAndGlyphs">N</text><circle cx="167.9" cy="154.2" r="1.25" fill="none" stroke="#262626" stroke-width="0.85"/><text x="146.1" y="183.5" font-size="13.8" font-weight="bold" text-anchor="start" fill="#262626" stroke="#262626" stroke-width="0.35" textLength="17.6" lengthAdjust="spacingAndGlyphs">40</text><text x="175.7" y="183.5" font-size="13.8" font-weight="bold" text-anchor="start" fill="#262626" stroke="#262626" stroke-width="0.35" textLength="9.5" lengthAdjust="spacingAndGlyphs">N</text><circle cx="167.9" cy="170.4" r="1.25" fill="none" stroke="#262626" stroke-width="0.85"/><text x="146.1" y="198.5" font-size="13.8" font-weight="bold" text-anchor="start" fill="#262626" stroke="#262626" stroke-width="0.35" textLength="17.6" lengthAdjust="spacingAndGlyphs">38</text><text x="175.7" y="198.5" font-size="13.8" font-weight="bold" text-anchor="start" fill="#262626" stroke="#262626" stroke-width="0.35" textLength="9.5" lengthAdjust="spacingAndGlyphs">N</text><circle cx="167.9" cy="185.4" r="1.25" fill="none" stroke="#262626" stroke-width="0.85"/><text x="146.1" y="215.2" font-size="13.8" font-weight="bold" text-anchor="start" fill="#262626" stroke="#262626" stroke-width="0.35" textLength="17.6" lengthAdjust="spacingAndGlyphs">36</text><text x="175.7" y="215.2" font-size="13.8" font-weight="bold" text-anchor="start" fill="#262626" stroke="#262626" stroke-width="0.35" textLength="9.5" lengthAdjust="spacingAndGlyphs">N</text><circle cx="167.9" cy="202.1" r="1.25" fill="none" stroke="#262626" stroke-width="0.85"/><text x="146.1" y="229.2" font-size="13.8" font-weight="bold" text-anchor="start" fill="#262626" stroke="#262626" stroke-width="0.35" textLength="17.6" lengthAdjust="spacingAndGlyphs">34</text><text x="175.7" y="229.2" font-size="13.8" font-weight="bold" text-anchor="start" fill="#262626" stroke="#262626" stroke-width="0.35" textLength="9.5" lengthAdjust="spacingAndGlyphs">N</text><circle cx="167.9" cy="216.1" r="1.25" fill="none" stroke="#262626" stroke-width="0.85"/><text x="146.1" y="246.5" font-size="13.8" font-weight="bold" text-anchor="start" fill="#262626" stroke="#262626" stroke-width="0.35" textLength="17.6" lengthAdjust="spacingAndGlyphs">32</text><text x="175.7" y="246.5" font-size="13.8" font-weight="bold" text-anchor="start" fill="#262626" stroke="#262626" stroke-width="0.35" textLength="9.5" lengthAdjust="spacingAndGlyphs">N</text><circle cx="167.9" cy="233.4" r="1.25" fill="none" stroke="#262626" stroke-width="0.85"/><text x="146.1" y="260.4" font-size="13.8" font-weight="bold" text-anchor="start" fill="#262626" stroke="#262626" stroke-width="0.35" textLength="17.6" lengthAdjust="spacingAndGlyphs">30</text><text x="175.7" y="260.4" font-size="13.8" font-weight="bold" text-anchor="start" fill="#262626" stroke="#262626" stroke-width="0.35" textLength="9.5" lengthAdjust="spacingAndGlyphs">N</text><circle cx="167.9" cy="247.3" r="1.25" fill="none" stroke="#262626" stroke-width="0.85"/><text x="146.1" y="273.2" font-size="13.8" font-weight="bold" text-anchor="start" fill="#262626" stroke="#262626" stroke-width="0.35" textLength="17.6" lengthAdjust="spacingAndGlyphs">28</text><text x="175.7" y="273.2" font-size="13.8" font-weight="bold" text-anchor="start" fill="#262626" stroke="#262626" stroke-width="0.35" textLength="9.5" lengthAdjust="spacingAndGlyphs">N</text><circle cx="167.9" cy="260.1" r="1.25" fill="none" stroke="#262626" stroke-width="0.85"/><text x="146.1" y="287.7" font-size="13.8" font-weight="bold" text-anchor="start" fill="#262626" stroke="#262626" stroke-width="0.35" textLength="17.6" lengthAdjust="spacingAndGlyphs">26</text><text x="175.7" y="287.7" font-size="13.8" font-weight="bold" text-anchor="start" fill="#262626" stroke="#262626" stroke-width="0.35" textLength="9.5" lengthAdjust="spacingAndGlyphs">N</text><circle cx="167.9" cy="274.6" r="1.25" fill="none" stroke="#262626" stroke-width="0.85"/><text x="146.1" y="301.7" font-size="13.8" font-weight="bold" text-anchor="start" fill="#262626" stroke="#262626" stroke-width="0.35" textLength="17.6" lengthAdjust="spacingAndGlyphs">24</text><text x="175.7" y="301.7" font-size="13.8" font-weight="bold" text-anchor="start" fill="#262626" stroke="#262626" stroke-width="0.35" textLength="9.5" lengthAdjust="spacingAndGlyphs">N</text><circle cx="167.9" cy="288.6" r="1.25" fill="none" stroke="#262626" stroke-width="0.85"/><text x="146.1" y="315.0" font-size="13.8" font-weight="bold" text-anchor="start" fill="#262626" stroke="#262626" stroke-width="0.35" textLength="17.6" lengthAdjust="spacingAndGlyphs">22</text><text x="175.7" y="315.0" font-size="13.8" font-weight="bold" text-anchor="start" fill="#262626" stroke="#262626" stroke-width="0.35" textLength="9.5" lengthAdjust="spacingAndGlyphs">N</text><circle cx="167.9" cy="301.9" r="1.25" fill="none" stroke="#262626" stroke-width="0.85"/><text x="473.9" y="317.9" font-size="22" font-weight="bold" text-anchor="start" fill="#262626" stroke="#262626" stroke-width="0.35" textLength="13.3" lengthAdjust="spacingAndGlyphs">0</text><path d="M462.5 310.3H464.7" stroke="#262626" stroke-width="0.8"/><text x="473.9" y="254.6" font-size="22" font-weight="bold" text-anchor="start" fill="#262626" stroke="#262626" stroke-width="0.35" textLength="13.3" lengthAdjust="spacingAndGlyphs">2</text><path d="M462.5 247.0H464.7" stroke="#262626" stroke-width="0.8"/><text x="473.9" y="191.3" font-size="22" font-weight="bold" text-anchor="start" fill="#262626" stroke="#262626" stroke-width="0.35" textLength="13.3" lengthAdjust="spacingAndGlyphs">4</text><path d="M462.5 183.7H464.7" stroke="#262626" stroke-width="0.8"/><text x="473.9" y="127.9" font-size="22" font-weight="bold" text-anchor="start" fill="#262626" stroke="#262626" stroke-width="0.35" textLength="13.3" lengthAdjust="spacingAndGlyphs">6</text><path d="M462.5 120.3H464.7" stroke="#262626" stroke-width="0.8"/>
<text x="124.7" y="341.6" font-size="23.2" font-weight="bold" text-anchor="start" fill="#262626" stroke="#262626" stroke-width="0.35" textLength="118.6" lengthAdjust="spacingAndGlyphs">SAT+RAP</text><text x="254.0" y="341.6" font-size="23.2" font-weight="bold" text-anchor="start" fill="#262626" stroke="#262626" stroke-width="0.35" textLength="46.7" lengthAdjust="spacingAndGlyphs">850</text><text x="310.5" y="341.6" font-size="23.2" font-weight="bold" text-anchor="start" fill="#262626" stroke="#262626" stroke-width="0.35" textLength="44.8" lengthAdjust="spacingAndGlyphs">hPa</text><text x="366.0" y="341.6" font-size="23.2" font-weight="bold" text-anchor="start" fill="#262626" stroke="#262626" stroke-width="0.35" textLength="38.7" lengthAdjust="spacingAndGlyphs">MR</text><text x="416.1" y="341.6" font-size="23.2" font-weight="bold" text-anchor="start" fill="#262626" stroke="#262626" stroke-width="0.35" textLength="73.9" lengthAdjust="spacingAndGlyphs">(g/kg)</text>
<rect x="616.6" y="96.7" width="234.1" height="212.6" fill="none" stroke="#262626" stroke-width="0.9"/>
<g transform="translate(616.6 96.7) scale(1.0000 1.0000)"><g clip-path="url(#boxclip)"><use href="#usmap"/></g></g>
<rect x="862.4" y="93.1" width="23.3" height="219.4" fill="url(#jet)" stroke="#262626" stroke-width="0.7"/>
<text x="636.9" y="77.0" font-size="13.8" font-weight="bold" text-anchor="start" fill="#262626" stroke="#262626" stroke-width="0.35" textLength="23.8" lengthAdjust="spacingAndGlyphs">100</text><text x="673.7" y="77.0" font-size="13.8" font-weight="bold" text-anchor="start" fill="#262626" stroke="#262626" stroke-width="0.35" textLength="13.0" lengthAdjust="spacingAndGlyphs">W</text><circle cx="666.0" cy="64.3" r="1.25" fill="none" stroke="#262626" stroke-width="0.85"/><text x="705.7" y="77.0" font-size="13.8" font-weight="bold" text-anchor="start" fill="#262626" stroke="#262626" stroke-width="0.35" textLength="16.2" lengthAdjust="spacingAndGlyphs">90</text><text x="734.9" y="77.0" font-size="13.8" font-weight="bold" text-anchor="start" fill="#262626" stroke="#262626" stroke-width="0.35" textLength="13.0" lengthAdjust="spacingAndGlyphs">W</text><circle cx="726.6" cy="64.3" r="1.25" fill="none" stroke="#262626" stroke-width="0.85"/><text x="769.9" y="77.0" font-size="13.8" font-weight="bold" text-anchor="start" fill="#262626" stroke="#262626" stroke-width="0.35" textLength="16.4" lengthAdjust="spacingAndGlyphs">80</text><text x="799.0" y="77.0" font-size="13.8" font-weight="bold" text-anchor="start" fill="#262626" stroke="#262626" stroke-width="0.35" textLength="12.8" lengthAdjust="spacingAndGlyphs">W</text><circle cx="790.9" cy="64.3" r="1.25" fill="none" stroke="#262626" stroke-width="0.85"/><text x="833.1" y="77.0" font-size="13.8" font-weight="bold" text-anchor="start" fill="#262626" stroke="#262626" stroke-width="0.35" textLength="15.6" lengthAdjust="spacingAndGlyphs">70</text><text x="862.1" y="77.0" font-size="13.8" font-weight="bold" text-anchor="start" fill="#262626" stroke="#262626" stroke-width="0.35" textLength="12.6" lengthAdjust="spacingAndGlyphs">W</text><circle cx="853.5" cy="64.3" r="1.25" fill="none" stroke="#262626" stroke-width="0.85"/><text x="567.1" y="113.8" font-size="13.8" font-weight="bold" text-anchor="start" fill="#262626" stroke="#262626" stroke-width="0.35" textLength="17.6" lengthAdjust="spacingAndGlyphs">48</text><text x="596.7" y="113.8" font-size="13.8" font-weight="bold" text-anchor="start" fill="#262626" stroke="#262626" stroke-width="0.35" textLength="9.5" lengthAdjust="spacingAndGlyphs">N</text><circle cx="588.9" cy="100.7" r="1.25" fill="none" stroke="#262626" stroke-width="0.85"/><text x="567.1" y="131.0" font-size="13.8" font-weight="bold" text-anchor="start" fill="#262626" stroke="#262626" stroke-width="0.35" textLength="17.6" lengthAdjust="spacingAndGlyphs">46</text><text x="596.7" y="131.0" font-size="13.8" font-weight="bold" text-anchor="start" fill="#262626" stroke="#262626" stroke-width="0.35" textLength="9.5" lengthAdjust="spacingAndGlyphs">N</text><circle cx="588.9" cy="117.9" r="1.25" fill="none" stroke="#262626" stroke-width="0.85"/><text x="567.1" y="148.3" font-size="13.8" font-weight="bold" text-anchor="start" fill="#262626" stroke="#262626" stroke-width="0.35" textLength="17.6" lengthAdjust="spacingAndGlyphs">44</text><text x="596.7" y="148.3" font-size="13.8" font-weight="bold" text-anchor="start" fill="#262626" stroke="#262626" stroke-width="0.35" textLength="9.5" lengthAdjust="spacingAndGlyphs">N</text><circle cx="588.9" cy="135.2" r="1.25" fill="none" stroke="#262626" stroke-width="0.85"/><text x="567.1" y="167.3" font-size="13.8" font-weight="bold" text-anchor="start" fill="#262626" stroke="#262626" stroke-width="0.35" textLength="17.6" lengthAdjust="spacingAndGlyphs">42</text><text x="596.7" y="167.3" font-size="13.8" font-weight="bold" text-anchor="start" fill="#262626" stroke="#262626" stroke-width="0.35" textLength="9.5" lengthAdjust="spacingAndGlyphs">N</text><circle cx="588.9" cy="154.2" r="1.25" fill="none" stroke="#262626" stroke-width="0.85"/><text x="567.1" y="183.5" font-size="13.8" font-weight="bold" text-anchor="start" fill="#262626" stroke="#262626" stroke-width="0.35" textLength="17.6" lengthAdjust="spacingAndGlyphs">40</text><text x="596.7" y="183.5" font-size="13.8" font-weight="bold" text-anchor="start" fill="#262626" stroke="#262626" stroke-width="0.35" textLength="9.5" lengthAdjust="spacingAndGlyphs">N</text><circle cx="588.9" cy="170.4" r="1.25" fill="none" stroke="#262626" stroke-width="0.85"/><text x="567.1" y="198.5" font-size="13.8" font-weight="bold" text-anchor="start" fill="#262626" stroke="#262626" stroke-width="0.35" textLength="17.6" lengthAdjust="spacingAndGlyphs">38</text><text x="596.7" y="198.5" font-size="13.8" font-weight="bold" text-anchor="start" fill="#262626" stroke="#262626" stroke-width="0.35" textLength="9.5" lengthAdjust="spacingAndGlyphs">N</text><circle cx="588.9" cy="185.4" r="1.25" fill="none" stroke="#262626" stroke-width="0.85"/><text x="567.1" y="215.2" font-size="13.8" font-weight="bold" text-anchor="start" fill="#262626" stroke="#262626" stroke-width="0.35" textLength="17.6" lengthAdjust="spacingAndGlyphs">36</text><text x="596.7" y="215.2" font-size="13.8" font-weight="bold" text-anchor="start" fill="#262626" stroke="#262626" stroke-width="0.35" textLength="9.5" lengthAdjust="spacingAndGlyphs">N</text><circle cx="588.9" cy="202.1" r="1.25" fill="none" stroke="#262626" stroke-width="0.85"/><text x="567.1" y="229.2" font-size="13.8" font-weight="bold" text-anchor="start" fill="#262626" stroke="#262626" stroke-width="0.35" textLength="17.6" lengthAdjust="spacingAndGlyphs">34</text><text x="596.7" y="229.2" font-size="13.8" font-weight="bold" text-anchor="start" fill="#262626" stroke="#262626" stroke-width="0.35" textLength="9.5" lengthAdjust="spacingAndGlyphs">N</text><circle cx="588.9" cy="216.1" r="1.25" fill="none" stroke="#262626" stroke-width="0.85"/><text x="567.1" y="246.5" font-size="13.8" font-weight="bold" text-anchor="start" fill="#262626" stroke="#262626" stroke-width="0.35" textLength="17.6" lengthAdjust="spacingAndGlyphs">32</text><text x="596.7" y="246.5" font-size="13.8" font-weight="bold" text-anchor="start" fill="#262626" stroke="#262626" stroke-width="0.35" textLength="9.5" lengthAdjust="spacingAndGlyphs">N</text><circle cx="588.9" cy="233.4" r="1.25" fill="none" stroke="#262626" stroke-width="0.85"/><text x="567.1" y="260.4" font-size="13.8" font-weight="bold" text-anchor="start" fill="#262626" stroke="#262626" stroke-width="0.35" textLength="17.6" lengthAdjust="spacingAndGlyphs">30</text><text x="596.7" y="260.4" font-size="13.8" font-weight="bold" text-anchor="start" fill="#262626" stroke="#262626" stroke-width="0.35" textLength="9.5" lengthAdjust="spacingAndGlyphs">N</text><circle cx="588.9" cy="247.3" r="1.25" fill="none" stroke="#262626" stroke-width="0.85"/><text x="567.1" y="273.2" font-size="13.8" font-weight="bold" text-anchor="start" fill="#262626" stroke="#262626" stroke-width="0.35" textLength="17.6" lengthAdjust="spacingAndGlyphs">28</text><text x="596.7" y="273.2" font-size="13.8" font-weight="bold" text-anchor="start" fill="#262626" stroke="#262626" stroke-width="0.35" textLength="9.5" lengthAdjust="spacingAndGlyphs">N</text><circle cx="588.9" cy="260.1" r="1.25" fill="none" stroke="#262626" stroke-width="0.85"/><text x="567.1" y="287.7" font-size="13.8" font-weight="bold" text-anchor="start" fill="#262626" stroke="#262626" stroke-width="0.35" textLength="17.6" lengthAdjust="spacingAndGlyphs">26</text><text x="596.7" y="287.7" font-size="13.8" font-weight="bold" text-anchor="start" fill="#262626" stroke="#262626" stroke-width="0.35" textLength="9.5" lengthAdjust="spacingAndGlyphs">N</text><circle cx="588.9" cy="274.6" r="1.25" fill="none" stroke="#262626" stroke-width="0.85"/><text x="567.1" y="301.7" font-size="13.8" font-weight="bold" text-anchor="start" fill="#262626" stroke="#262626" stroke-width="0.35" textLength="17.6" lengthAdjust="spacingAndGlyphs">24</text><text x="596.7" y="301.7" font-size="13.8" font-weight="bold" text-anchor="start" fill="#262626" stroke="#262626" stroke-width="0.35" textLength="9.5" lengthAdjust="spacingAndGlyphs">N</text><circle cx="588.9" cy="288.6" r="1.25" fill="none" stroke="#262626" stroke-width="0.85"/><text x="567.1" y="315.0" font-size="13.8" font-weight="bold" text-anchor="start" fill="#262626" stroke="#262626" stroke-width="0.35" textLength="17.6" lengthAdjust="spacingAndGlyphs">22</text><text x="596.7" y="315.0" font-size="13.8" font-weight="bold" text-anchor="start" fill="#262626" stroke="#262626" stroke-width="0.35" textLength="9.5" lengthAdjust="spacingAndGlyphs">N</text><circle cx="588.9" cy="301.9" r="1.25" fill="none" stroke="#262626" stroke-width="0.85"/><text x="894.9" y="320.1" font-size="22" font-weight="bold" text-anchor="start" fill="#262626" stroke="#262626" stroke-width="0.35" textLength="13.3" lengthAdjust="spacingAndGlyphs">0</text><path d="M883.5 312.5H885.7" stroke="#262626" stroke-width="0.8"/><text x="894.9" y="269.5" font-size="22" font-weight="bold" text-anchor="start" fill="#262626" stroke="#262626" stroke-width="0.35" textLength="13.3" lengthAdjust="spacingAndGlyphs">1</text><path d="M883.5 261.9H885.7" stroke="#262626" stroke-width="0.8"/><text x="894.9" y="219.7" font-size="22" font-weight="bold" text-anchor="start" fill="#262626" stroke="#262626" stroke-width="0.35" textLength="13.3" lengthAdjust="spacingAndGlyphs">2</text><path d="M883.5 212.1H885.7" stroke="#262626" stroke-width="0.8"/><text x="894.9" y="169.7" font-size="22" font-weight="bold" text-anchor="start" fill="#262626" stroke="#262626" stroke-width="0.35" textLength="13.3" lengthAdjust="spacingAndGlyphs">3</text><path d="M883.5 162.1H885.7" stroke="#262626" stroke-width="0.8"/><text x="894.9" y="118.8" font-size="22" font-weight="bold" text-anchor="start" fill="#262626" stroke="#262626" stroke-width="0.35" textLength="13.3" lengthAdjust="spacingAndGlyphs">4</text><path d="M883.5 111.2H885.7" stroke="#262626" stroke-width="0.8"/>
<text x="545.7" y="341.6" font-size="23.2" font-weight="bold" text-anchor="start" fill="#262626" stroke="#262626" stroke-width="0.35" textLength="118.6" lengthAdjust="spacingAndGlyphs">SAT+RAP</text><text x="675.0" y="341.6" font-size="23.2" font-weight="bold" text-anchor="start" fill="#262626" stroke="#262626" stroke-width="0.35" textLength="46.7" lengthAdjust="spacingAndGlyphs">700</text><text x="731.5" y="341.6" font-size="23.2" font-weight="bold" text-anchor="start" fill="#262626" stroke="#262626" stroke-width="0.35" textLength="44.8" lengthAdjust="spacingAndGlyphs">hPa</text><text x="787.0" y="341.6" font-size="23.2" font-weight="bold" text-anchor="start" fill="#262626" stroke="#262626" stroke-width="0.35" textLength="38.7" lengthAdjust="spacingAndGlyphs">MR</text><text x="837.1" y="341.6" font-size="23.2" font-weight="bold" text-anchor="start" fill="#262626" stroke="#262626" stroke-width="0.35" textLength="73.9" lengthAdjust="spacingAndGlyphs">(g/kg)</text>
<rect x="1037.2" y="95.2" width="235.7" height="214.7" fill="none" stroke="#262626" stroke-width="0.9"/>
<g transform="translate(1037.2 95.2) scale(1.0068 1.0099)"><g clip-path="url(#boxclip)"><use href="#usmap"/></g></g>
<rect x="1285.4" y="93.1" width="23.3" height="219.4" fill="url(#jet)" stroke="#262626" stroke-width="0.7"/>
<text x="1060.5" y="75.0" font-size="13.8" font-weight="bold" text-anchor="start" fill="#262626" stroke="#262626" stroke-width="0.35" textLength="23.8" lengthAdjust="spacingAndGlyphs">100</text><text x="1097.3" y="75.0" font-size="13.8" font-weight="bold" text-anchor="start" fill="#262626" stroke="#262626" stroke-width="0.35" textLength="13.0" lengthAdjust="spacingAndGlyphs">W</text><circle cx="1089.6" cy="62.3" r="1.25" fill="none" stroke="#262626" stroke-width="0.85"/><text x="1129.3" y="75.0" font-size="13.8" font-weight="bold" text-anchor="start" fill="#262626" stroke="#262626" stroke-width="0.35" textLength="16.2" lengthAdjust="spacingAndGlyphs">90</text><text x="1158.5" y="75.0" font-size="13.8" font-weight="bold" text-anchor="start" fill="#262626" stroke="#262626" stroke-width="0.35" textLength="13.0" lengthAdjust="spacingAndGlyphs">W</text><circle cx="1150.2" cy="62.3" r="1.25" fill="none" stroke="#262626" stroke-width="0.85"/><text x="1193.5" y="75.0" font-size="13.8" font-weight="bold" text-anchor="start" fill="#262626" stroke="#262626" stroke-width="0.35" textLength="16.4" lengthAdjust="spacingAndGlyphs">80</text><text x="1222.6" y="75.0" font-size="13.8" font-weight="bold" text-anchor="start" fill="#262626" stroke="#262626" stroke-width="0.35" textLength="12.8" lengthAdjust="spacingAndGlyphs">W</text><circle cx="1214.5" cy="62.3" r="1.25" fill="none" stroke="#262626" stroke-width="0.85"/><text x="1256.7" y="75.0" font-size="13.8" font-weight="bold" text-anchor="start" fill="#262626" stroke="#262626" stroke-width="0.35" textLength="15.6" lengthAdjust="spacingAndGlyphs">70</text><text x="1285.7" y="75.0" font-size="13.8" font-weight="bold" text-anchor="start" fill="#262626" stroke="#262626" stroke-width="0.35" textLength="12.6" lengthAdjust="spacingAndGlyphs">W</text><circle cx="1277.1" cy="62.3" r="1.25" fill="none" stroke="#262626" stroke-width="0.85"/><text x="988.2" y="113.1" font-size="13.8" font-weight="bold" text-anchor="start" fill="#262626" stroke="#262626" stroke-width="0.35" textLength="17.6" lengthAdjust="spacingAndGlyphs">48</text><text x="1017.8" y="113.1" font-size="13.8" font-weight="bold" text-anchor="start" fill="#262626" stroke="#262626" stroke-width="0.35" textLength="9.5" lengthAdjust="spacingAndGlyphs">N</text><circle cx="1010.0" cy="100.0" r="1.25" fill="none" stroke="#262626" stroke-width="0.85"/><text x="988.2" y="131.4" font-size="13.8" font-weight="bold" text-anchor="start" fill="#262626" stroke="#262626" stroke-width="0.35" textLength="17.6" lengthAdjust="spacingAndGlyphs">46</text><text x="1017.8" y="131.4" font-size="13.8" font-weight="bold" text-anchor="start" fill="#262626" stroke="#262626" stroke-width="0.35" textLength="9.5" lengthAdjust="spacingAndGlyphs">N</text><circle cx="1010.0" cy="118.3" r="1.25" fill="none" stroke="#262626" stroke-width="0.85"/><text x="988.2" y="148.6" font-size="13.8" font-weight="bold" text-anchor="start" fill="#262626" stroke="#262626" stroke-width="0.35" textLength="17.6" lengthAdjust="spacingAndGlyphs">44</text><text x="1017.8" y="148.6" font-size="13.8" font-weight="bold" text-anchor="start" fill="#262626" stroke="#262626" stroke-width="0.35" textLength="9.5" lengthAdjust="spacingAndGlyphs">N</text><circle cx="1010.0" cy="135.5" r="1.25" fill="none" stroke="#262626" stroke-width="0.85"/><text x="988.2" y="167.2" font-size="13.8" font-weight="bold" text-anchor="start" fill="#262626" stroke="#262626" stroke-width="0.35" textLength="17.6" lengthAdjust="spacingAndGlyphs">42</text><text x="1017.8" y="167.2" font-size="13.8" font-weight="bold" text-anchor="start" fill="#262626" stroke="#262626" stroke-width="0.35" textLength="9.5" lengthAdjust="spacingAndGlyphs">N</text><circle cx="1010.0" cy="154.1" r="1.25" fill="none" stroke="#262626" stroke-width="0.85"/><text x="988.2" y="183.5" font-size="13.8" font-weight="bold" text-anchor="start" fill="#262626" stroke="#262626" stroke-width="0.35" textLength="17.6" lengthAdjust="spacingAndGlyphs">40</text><text x="1017.8" y="183.5" font-size="13.8" font-weight="bold" text-anchor="start" fill="#262626" stroke="#262626" stroke-width="0.35" textLength="9.5" lengthAdjust="spacingAndGlyphs">N</text><circle cx="1010.0" cy="170.4" r="1.25" fill="none" stroke="#262626" stroke-width="0.85"/><text x="988.2" y="198.3" font-size="13.8" font-weight="bold" text-anchor="start" fill="#262626" stroke="#262626" stroke-width="0.35" textLength="17.6" lengthAdjust="spacingAndGlyphs">38</text><text x="1017.8" y="198.3" font-size="13.8" font-weight="bold" text-anchor="start" fill="#262626" stroke="#262626" stroke-width="0.35" textLength="9.5" lengthAdjust="spacingAndGlyphs">N</text><circle cx="1010.0" cy="185.2" r="1.25" fill="none" stroke="#262626" stroke-width="0.85"/><text x="988.2" y="215.5" font-size="13.8" font-weight="bold" text-anchor="start" fill="#262626" stroke="#262626" stroke-width="0.35" textLength="17.6" lengthAdjust="spacingAndGlyphs">36</text><text x="1017.8" y="215.5" font-size="13.8" font-weight="bold" text-anchor="start" fill="#262626" stroke="#262626" stroke-width="0.35" textLength="9.5" lengthAdjust="spacingAndGlyphs">N</text><circle cx="1010.0" cy="202.4" r="1.25" fill="none" stroke="#262626" stroke-width="0.85"/><text x="988.2" y="229.4" font-size="13.8" font-weight="bold" text-anchor="start" fill="#262626" stroke="#262626" stroke-width="0.35" textLength="17.6" lengthAdjust="spacingAndGlyphs">34</text><text x="1017.8" y="229.4" font-size="13.8" font-weight="bold" text-anchor="start" fill="#262626" stroke="#262626" stroke-width="0.35" textLength="9.5" lengthAdjust="spacingAndGlyphs">N</text><circle cx="1010.0" cy="216.3" r="1.25" fill="none" stroke="#262626" stroke-width="0.85"/><text x="988.2" y="246.9" font-size="13.8" font-weight="bold" text-anchor="start" fill="#262626" stroke="#262626" stroke-width="0.35" textLength="17.6" lengthAdjust="spacingAndGlyphs">32</text><text x="1017.8" y="246.9" font-size="13.8" font-weight="bold" text-anchor="start" fill="#262626" stroke="#262626" stroke-width="0.35" textLength="9.5" lengthAdjust="spacingAndGlyphs">N</text><circle cx="1010.0" cy="233.8" r="1.25" fill="none" stroke="#262626" stroke-width="0.85"/><text x="988.2" y="260.0" font-size="13.8" font-weight="bold" text-anchor="start" fill="#262626" stroke="#262626" stroke-width="0.35" textLength="17.6" lengthAdjust="spacingAndGlyphs">30</text><text x="1017.8" y="260.0" font-size="13.8" font-weight="bold" text-anchor="start" fill="#262626" stroke="#262626" stroke-width="0.35" textLength="9.5" lengthAdjust="spacingAndGlyphs">N</text><circle cx="1010.0" cy="246.9" r="1.25" fill="none" stroke="#262626" stroke-width="0.85"/><text x="988.2" y="275.1" font-size="13.8" font-weight="bold" text-anchor="start" fill="#262626" stroke="#262626" stroke-width="0.35" textLength="17.6" lengthAdjust="spacingAndGlyphs">28</text><text x="1017.8" y="275.1" font-size="13.8" font-weight="bold" text-anchor="start" fill="#262626" stroke="#262626" stroke-width="0.35" textLength="9.5" lengthAdjust="spacingAndGlyphs">N</text><circle cx="1010.0" cy="262.0" r="1.25" fill="none" stroke="#262626" stroke-width="0.85"/><text x="988.2" y="289.9" font-size="13.8" font-weight="bold" text-anchor="start" fill="#262626" stroke="#262626" stroke-width="0.35" textLength="17.6" lengthAdjust="spacingAndGlyphs">26</text><text x="1017.8" y="289.9" font-size="13.8" font-weight="bold" text-anchor="start" fill="#262626" stroke="#262626" stroke-width="0.35" textLength="9.5" lengthAdjust="spacingAndGlyphs">N</text><circle cx="1010.0" cy="276.8" r="1.25" fill="none" stroke="#262626" stroke-width="0.85"/><text x="988.2" y="302.2" font-size="13.8" font-weight="bold" text-anchor="start" fill="#262626" stroke="#262626" stroke-width="0.35" textLength="17.6" lengthAdjust="spacingAndGlyphs">24</text><text x="1017.8" y="302.2" font-size="13.8" font-weight="bold" text-anchor="start" fill="#262626" stroke="#262626" stroke-width="0.35" textLength="9.5" lengthAdjust="spacingAndGlyphs">N</text><circle cx="1010.0" cy="289.1" r="1.25" fill="none" stroke="#262626" stroke-width="0.85"/><text x="988.2" y="316.7" font-size="13.8" font-weight="bold" text-anchor="start" fill="#262626" stroke="#262626" stroke-width="0.35" textLength="17.6" lengthAdjust="spacingAndGlyphs">22</text><text x="1017.8" y="316.7" font-size="13.8" font-weight="bold" text-anchor="start" fill="#262626" stroke="#262626" stroke-width="0.35" textLength="9.5" lengthAdjust="spacingAndGlyphs">N</text><circle cx="1010.0" cy="303.6" r="1.25" fill="none" stroke="#262626" stroke-width="0.85"/><text x="1317.9" y="320.1" font-size="22" font-weight="bold" text-anchor="start" fill="#262626" stroke="#262626" stroke-width="0.35" textLength="13.3" lengthAdjust="spacingAndGlyphs">0</text><path d="M1306.5 312.5H1308.7" stroke="#262626" stroke-width="0.8"/><text x="1317.9" y="252.2" font-size="22" font-weight="bold" text-anchor="start" fill="#262626" stroke="#262626" stroke-width="0.35" textLength="34.2" lengthAdjust="spacingAndGlyphs">0.5</text><path d="M1306.5 244.6H1308.7" stroke="#262626" stroke-width="0.8"/><text x="1317.9" y="184.3" font-size="22" font-weight="bold" text-anchor="start" fill="#262626" stroke="#262626" stroke-width="0.35" textLength="13.3" lengthAdjust="spacingAndGlyphs">1</text><path d="M1306.5 176.7H1308.7" stroke="#262626" stroke-width="0.8"/><text x="1317.9" y="116.4" font-size="22" font-weight="bold" text-anchor="start" fill="#262626" stroke="#262626" stroke-width="0.35" textLength="34.2" lengthAdjust="spacingAndGlyphs">1.5</text><path d="M1306.5 108.8H1308.7" stroke="#262626" stroke-width="0.8"/>
<text x="967.2" y="341.6" font-size="23.2" font-weight="bold" text-anchor="start" fill="#262626" stroke="#262626" stroke-width="0.35" textLength="118.6" lengthAdjust="spacingAndGlyphs">SAT+RAP</text><text x="1096.5" y="341.6" font-size="23.2" font-weight="bold" text-anchor="start" fill="#262626" stroke="#262626" stroke-width="0.35" textLength="46.7" lengthAdjust="spacingAndGlyphs">500</text><text x="1153.0" y="341.6" font-size="23.2" font-weight="bold" text-anchor="start" fill="#262626" stroke="#262626" stroke-width="0.35" textLength="44.8" lengthAdjust="spacingAndGlyphs">hPa</text><text x="1208.5" y="341.6" font-size="23.2" font-weight="bold" text-anchor="start" fill="#262626" stroke="#262626" stroke-width="0.35" textLength="38.7" lengthAdjust="spacingAndGlyphs">MR</text><text x="1258.6" y="341.6" font-size="23.2" font-weight="bold" text-anchor="start" fill="#262626" stroke="#262626" stroke-width="0.35" textLength="73.9" lengthAdjust="spacingAndGlyphs">(g/kg)</text>
<rect x="195.6" y="486.7" width="234.1" height="212.6" fill="none" stroke="#262626" stroke-width="0.9"/>
<g transform="translate(195.6 486.7) scale(1.0000 1.0000)"><g clip-path="url(#boxclip)"><use href="#usmap"/></g></g>
<rect x="441.4" y="483.1" width="23.3" height="219.4" fill="url(#jet)" stroke="#262626" stroke-width="0.7"/>
<text x="215.9" y="467.0" font-size="13.8" font-weight="bold" text-anchor="start" fill="#262626" stroke="#262626" stroke-width="0.35" textLength="23.8" lengthAdjust="spacingAndGlyphs">100</text><text x="252.7" y="467.0" font-size="13.8" font-weight="bold" text-anchor="start" fill="#262626" stroke="#262626" stroke-width="0.35" textLength="13.0" lengthAdjust="spacingAndGlyphs">W</text><circle cx="245.0" cy="454.3" r="1.25" fill="none" stroke="#262626" stroke-width="0.85"/><text x="284.7" y="467.0" font-size="13.8" font-weight="bold" text-anchor="start" fill="#262626" stroke="#262626" stroke-width="0.35" textLength="16.2" lengthAdjust="spacingAndGlyphs">90</text><text x="313.9" y="467.0" font-size="13.8" font-weight="bold" text-anchor="start" fill="#262626" stroke="#262626" stroke-width="0.35" textLength="13.0" lengthAdjust="spacingAndGlyphs">W</text><circle cx="305.6" cy="454.3" r="1.25" fill="none" stroke="#262626" stroke-width="0.85"/><text x="348.9" y="467.0" font-size="13.8" font-weight="bold" text-anchor="start" fill="#262626" stroke="#262626" stroke-width="0.35" textLength="16.4" lengthAdjust="spacingAndGlyphs">80</text><text x="378.0" y="467.0" font-size="13.8" font-weight="bold" text-anchor="start" fill="#262626" stroke="#262626" stroke-width="0.35" textLength="12.8" lengthAdjust="spacingAndGlyphs">W</text><circle cx="369.9" cy="454.3" r="1.25" fill="none" stroke="#262626" stroke-width="0.85"/><text x="412.1" y="467.0" font-size="13.8" font-weight="bold" text-anchor="start" fill="#262626" stroke="#262626" stroke-width="0.35" textLength="15.6" lengthAdjust="spacingAndGlyphs">70</text><text x="441.1" y="467.0" font-size="13.8" font-weight="bold" text-anchor="start" fill="#262626" stroke="#262626" stroke-width="0.35" textLength="12.6" lengthAdjust="spacingAndGlyphs">W</text><circle cx="432.5" cy="454.3" r="1.25" fill="none" stroke="#262626" stroke-width="0.85"/><text x="146.1" y="503.8" font-size="13.8" font-weight="bold" text-anchor="start" fill="#262626" stroke="#262626" stroke-width="0.35" textLength="17.6" lengthAdjust="spacingAndGlyphs">48</text><text x="175.7" y="503.8" font-size="13.8" font-weight="bold" text-anchor="start" fill="#262626" stroke="#262626" stroke-width="0.35" textLength="9.5" lengthAdjust="spacingAndGlyphs">N</text><circle cx="167.9" cy="490.7" r="1.25" fill="none" stroke="#262626" stroke-width="0.85"/><text x="146.1" y="521.0" font-size="13.8" font-weight="bold" text-anchor="start" fill="#262626" stroke="#262626" stroke-width="0.35" textLength="17.6" lengthAdjust="spacingAndGlyphs">46</text><text x="175.7" y="521.0" font-size="13.8" font-weight="bold" text-anchor="start" fill="#262626" stroke="#262626" stroke-width="0.35" textLength="9.5" lengthAdjust="spacingAndGlyphs">N</text><circle cx="167.9" cy="507.9" r="1.25" fill="none" stroke="#262626" stroke-width="0.85"/><text x="146.1" y="538.3" font-size="13.8" font-weight="bold" text-anchor="start" fill="#262626" stroke="#262626" stroke-width="0.35" textLength="17.6" lengthAdjust="spacingAndGlyphs">44</text><text x="175.7" y="538.3" font-size="13.8" font-weight="bold" text-anchor="start" fill="#262626" stroke="#262626" stroke-width="0.35" textLength="9.5" lengthAdjust="spacingAndGlyphs">N</text><circle cx="167.9" cy="525.2" r="1.25" fill="none" stroke="#262626" stroke-width="0.85"/><text x="146.1" y="557.3" font-size="13.8" font-weight="bold" text-anchor="start" fill="#262626" stroke="#262626" stroke-width="0.35" textLength="17.6" lengthAdjust="spacingAndGlyphs">42</text><text x="175.7" y="557.3" font-size="13.8" font-weight="bold" text-anchor="start" fill="#262626" stroke="#262626" stroke-width="0.35" textLength="9.5" lengthAdjust="spacingAndGlyphs">N</text><circle cx="167.9" cy="544.2" r="1.25" fill="none" stroke="#262626" stroke-width="0.85"/><text x="146.1" y="573.5" font-size="13.8" font-weight="bold" text-anchor="start" fill="#262626" stroke="#262626" stroke-width="0.35" textLength="17.6" lengthAdjust="spacingAndGlyphs">40</text><text x="175.7" y="573.5" font-size="13.8" font-weight="bold" text-anchor="start" fill="#262626" stroke="#262626" stroke-width="0.35" textLength="9.5" lengthAdjust="spacingAndGlyphs">N</text><circle cx="167.9" cy="560.4" r="1.25" fill="none" stroke="#262626" stroke-width="0.85"/><text x="146.1" y="588.5" font-size="13.8" font-weight="bold" text-anchor="start" fill="#262626" stroke="#262626" stroke-width="0.35" textLength="17.6" lengthAdjust="spacingAndGlyphs">38</text><text x="175.7" y="588.5" font-size="13.8" font-weight="bold" text-anchor="start" fill="#262626" stroke="#262626" stroke-width="0.35" textLength="9.5" lengthAdjust="spacingAndGlyphs">N</text><circle cx="167.9" cy="575.4" r="1.25" fill="none" stroke="#262626" stroke-width="0.85"/><text x="146.1" y="605.2" font-size="13.8" font-weight="bold" text-anchor="start" fill="#262626" stroke="#262626" stroke-width="0.35" textLength="17.6" lengthAdjust="spacingAndGlyphs">36</text><text x="175.7" y="605.2" font-size="13.8" font-weight="bold" text-anchor="start" fill="#262626" stroke="#262626" stroke-width="0.35" textLength="9.5" lengthAdjust="spacingAndGlyphs">N</text><circle cx="167.9" cy="592.1" r="1.25" fill="none" stroke="#262626" stroke-width="0.85"/><text x="146.1" y="619.2" font-size="13.8" font-weight="bold" text-anchor="start" fill="#262626" stroke="#262626" stroke-width="0.35" textLength="17.6" lengthAdjust="spacingAndGlyphs">34</text><text x="175.7" y="619.2" font-size="13.8" font-weight="bold" text-anchor="start" fill="#262626" stroke="#262626" stroke-width="0.35" textLength="9.5" lengthAdjust="spacingAndGlyphs">N</text><circle cx="167.9" cy="606.1" r="1.25" fill="none" stroke="#262626" stroke-width="0.85"/><text x="146.1" y="636.5" font-size="13.8" font-weight="bold" text-anchor="start" fill="#262626" stroke="#262626" stroke-width="0.35" textLength="17.6" lengthAdjust="spacingAndGlyphs">32</text><text x="175.7" y="636.5" font-size="13.8" font-weight="bold" text-anchor="start" fill="#262626" stroke="#262626" stroke-width="0.35" textLength="9.5" lengthAdjust="spacingAndGlyphs">N</text><circle cx="167.9" cy="623.4" r="1.25" fill="none" stroke="#262626" stroke-width="0.85"/><text x="146.1" y="650.4" font-size="13.8" font-weight="bold" text-anchor="start" fill="#262626" stroke="#262626" stroke-width="0.35" textLength="17.6" lengthAdjust="spacingAndGlyphs">30</text><text x="175.7" y="650.4" font-size="13.8" font-weight="bold" text-anchor="start" fill="#262626" stroke="#262626" stroke-width="0.35" textLength="9.5" lengthAdjust="spacingAndGlyphs">N</text><circle cx="167.9" cy="637.3" r="1.25" fill="none" stroke="#262626" stroke-width="0.85"/><text x="146.1" y="663.2" font-size="13.8" font-weight="bold" text-anchor="start" fill="#262626" stroke="#262626" stroke-width="0.35" textLength="17.6" lengthAdjust="spacingAndGlyphs">28</text><text x="175.7" y="663.2" font-size="13.8" font-weight="bold" text-anchor="start" fill="#262626" stroke="#262626" stroke-width="0.35" textLength="9.5" lengthAdjust="spacingAndGlyphs">N</text><circle cx="167.9" cy="650.1" r="1.25" fill="none" stroke="#262626" stroke-width="0.85"/><text x="146.1" y="677.7" font-size="13.8" font-weight="bold" text-anchor="start" fill="#262626" stroke="#262626" stroke-width="0.35" textLength="17.6" lengthAdjust="spacingAndGlyphs">26</text><text x="175.7" y="677.7" font-size="13.8" font-weight="bold" text-anchor="start" fill="#262626" stroke="#262626" stroke-width="0.35" textLength="9.5" lengthAdjust="spacingAndGlyphs">N</text><circle cx="167.9" cy="664.6" r="1.25" fill="none" stroke="#262626" stroke-width="0.85"/><text x="146.1" y="691.7" font-size="13.8" font-weight="bold" text-anchor="start" fill="#262626" stroke="#262626" stroke-width="0.35" textLength="17.6" lengthAdjust="spacingAndGlyphs">24</text><text x="175.7" y="691.7" font-size="13.8" font-weight="bold" text-anchor="start" fill="#262626" stroke="#262626" stroke-width="0.35" textLength="9.5" lengthAdjust="spacingAndGlyphs">N</text><circle cx="167.9" cy="678.6" r="1.25" fill="none" stroke="#262626" stroke-width="0.85"/><text x="146.1" y="705.0" font-size="13.8" font-weight="bold" text-anchor="start" fill="#262626" stroke="#262626" stroke-width="0.35" textLength="17.6" lengthAdjust="spacingAndGlyphs">22</text><text x="175.7" y="705.0" font-size="13.8" font-weight="bold" text-anchor="start" fill="#262626" stroke="#262626" stroke-width="0.35" textLength="9.5" lengthAdjust="spacingAndGlyphs">N</text><circle cx="167.9" cy="691.9" r="1.25" fill="none" stroke="#262626" stroke-width="0.85"/><text x="473.9" y="693.1" font-size="22" font-weight="bold" text-anchor="start" fill="#262626" stroke="#262626" stroke-width="0.35" textLength="22.6" lengthAdjust="spacingAndGlyphs">-2</text><path d="M462.5 685.5H464.7" stroke="#262626" stroke-width="0.8"/><text x="473.9" y="646.4" font-size="22" font-weight="bold" text-anchor="start" fill="#262626" stroke="#262626" stroke-width="0.35" textLength="22.6" lengthAdjust="spacingAndGlyphs">-1</text><path d="M462.5 638.8H464.7" stroke="#262626" stroke-width="0.8"/><text x="473.9" y="599.7" font-size="22" font-weight="bold" text-anchor="start" fill="#262626" stroke="#262626" stroke-width="0.35" textLength="13.3" lengthAdjust="spacingAndGlyphs">0</text><path d="M462.5 592.1H464.7" stroke="#262626" stroke-width="0.8"/><text x="473.9" y="553.0" font-size="22" font-weight="bold" text-anchor="start" fill="#262626" stroke="#262626" stroke-width="0.35" textLength="13.3" lengthAdjust="spacingAndGlyphs">1</text><path d="M462.5 545.4H464.7" stroke="#262626" stroke-width="0.8"/><text x="473.9" y="506.3" font-size="22" font-weight="bold" text-anchor="start" fill="#262626" stroke="#262626" stroke-width="0.35" textLength="13.3" lengthAdjust="spacingAndGlyphs">2</text><path d="M462.5 498.7H464.7" stroke="#262626" stroke-width="0.8"/>
<text x="130.0" y="731.5" font-size="23.2" font-weight="bold" text-anchor="start" fill="#262626" stroke="#262626" stroke-width="0.35" textLength="109.3" lengthAdjust="spacingAndGlyphs">SAT-RAP</text><text x="250.0" y="731.5" font-size="23.2" font-weight="bold" text-anchor="start" fill="#262626" stroke="#262626" stroke-width="0.35" textLength="45.9" lengthAdjust="spacingAndGlyphs">850</text><text x="306.0" y="731.5" font-size="23.2" font-weight="bold" text-anchor="start" fill="#262626" stroke="#262626" stroke-width="0.35" textLength="45.3" lengthAdjust="spacingAndGlyphs">hPa</text><text x="362.0" y="731.5" font-size="23.2" font-weight="bold" text-anchor="start" fill="#262626" stroke="#262626" stroke-width="0.35" textLength="38.7" lengthAdjust="spacingAndGlyphs">MR</text><text x="411.3" y="731.5" font-size="23.2" font-weight="bold" text-anchor="start" fill="#262626" stroke="#262626" stroke-width="0.35" textLength="74.2" lengthAdjust="spacingAndGlyphs">(g/kg)</text>
<rect x="616.6" y="486.7" width="234.1" height="212.6" fill="none" stroke="#262626" stroke-width="0.9"/>
<g transform="translate(616.6 486.7) scale(1.0000 1.0000)"><g clip-path="url(#boxclip)"><use href="#usmap"/></g></g>
<rect x="862.4" y="483.1" width="23.3" height="219.4" fill="url(#jet)" stroke="#262626" stroke-width="0.7"/>
<text x="636.9" y="467.0" font-size="13.8" font-weight="bold" text-anchor="start" fill="#262626" stroke="#262626" stroke-width="0.35" textLength="23.8" lengthAdjust="spacingAndGlyphs">100</text><text x="673.7" y="467.0" font-size="13.8" font-weight="bold" text-anchor="start" fill="#262626" stroke="#262626" stroke-width="0.35" textLength="13.0" lengthAdjust="spacingAndGlyphs">W</text><circle cx="666.0" cy="454.3" r="1.25" fill="none" stroke="#262626" stroke-width="0.85"/><text x="705.7" y="467.0" font-size="13.8" font-weight="bold" text-anchor="start" fill="#262626" stroke="#262626" stroke-width="0.35" textLength="16.2" lengthAdjust="spacingAndGlyphs">90</text><text x="734.9" y="467.0" font-size="13.8" font-weight="bold" text-anchor="start" fill="#262626" stroke="#262626" stroke-width="0.35" textLength="13.0" lengthAdjust="spacingAndGlyphs">W</text><circle cx="726.6" cy="454.3" r="1.25" fill="none" stroke="#262626" stroke-width="0.85"/><text x="769.9" y="467.0" font-size="13.8" font-weight="bold" text-anchor="start" fill="#262626" stroke="#262626" stroke-width="0.35" textLength="16.4" lengthAdjust="spacingAndGlyphs">80</text><text x="799.0" y="467.0" font-size="13.8" font-weight="bold" text-anchor="start" fill="#262626" stroke="#262626" stroke-width="0.35" textLength="12.8" lengthAdjust="spacingAndGlyphs">W</text><circle cx="790.9" cy="454.3" r="1.25" fill="none" stroke="#262626" stroke-width="0.85"/><text x="833.1" y="467.0" font-size="13.8" font-weight="bold" text-anchor="start" fill="#262626" stroke="#262626" stroke-width="0.35" textLength="15.6" lengthAdjust="spacingAndGlyphs">70</text><text x="862.1" y="467.0" font-size="13.8" font-weight="bold" text-anchor="start" fill="#262626" stroke="#262626" stroke-width="0.35" textLength="12.6" lengthAdjust="spacingAndGlyphs">W</text><circle cx="853.5" cy="454.3" r="1.25" fill="none" stroke="#262626" stroke-width="0.85"/><text x="567.1" y="503.8" font-size="13.8" font-weight="bold" text-anchor="start" fill="#262626" stroke="#262626" stroke-width="0.35" textLength="17.6" lengthAdjust="spacingAndGlyphs">48</text><text x="596.7" y="503.8" font-size="13.8" font-weight="bold" text-anchor="start" fill="#262626" stroke="#262626" stroke-width="0.35" textLength="9.5" lengthAdjust="spacingAndGlyphs">N</text><circle cx="588.9" cy="490.7" r="1.25" fill="none" stroke="#262626" stroke-width="0.85"/><text x="567.1" y="521.0" font-size="13.8" font-weight="bold" text-anchor="start" fill="#262626" stroke="#262626" stroke-width="0.35" textLength="17.6" lengthAdjust="spacingAndGlyphs">46</text><text x="596.7" y="521.0" font-size="13.8" font-weight="bold" text-anchor="start" fill="#262626" stroke="#262626" stroke-width="0.35" textLength="9.5" lengthAdjust="spacingAndGlyphs">N</text><circle cx="588.9" cy="507.9" r="1.25" fill="none" stroke="#262626" stroke-width="0.85"/><text x="567.1" y="538.3" font-size="13.8" font-weight="bold" text-anchor="start" fill="#262626" stroke="#262626" stroke-width="0.35" textLength="17.6" lengthAdjust="spacingAndGlyphs">44</text><text x="596.7" y="538.3" font-size="13.8" font-weight="bold" text-anchor="start" fill="#262626" stroke="#262626" stroke-width="0.35" textLength="9.5" lengthAdjust="spacingAndGlyphs">N</text><circle cx="588.9" cy="525.2" r="1.25" fill="none" stroke="#262626" stroke-width="0.85"/><text x="567.1" y="557.3" font-size="13.8" font-weight="bold" text-anchor="start" fill="#262626" stroke="#262626" stroke-width="0.35" textLength="17.6" lengthAdjust="spacingAndGlyphs">42</text><text x="596.7" y="557.3" font-size="13.8" font-weight="bold" text-anchor="start" fill="#262626" stroke="#262626" stroke-width="0.35" textLength="9.5" lengthAdjust="spacingAndGlyphs">N</text><circle cx="588.9" cy="544.2" r="1.25" fill="none" stroke="#262626" stroke-width="0.85"/><text x="567.1" y="573.5" font-size="13.8" font-weight="bold" text-anchor="start" fill="#262626" stroke="#262626" stroke-width="0.35" textLength="17.6" lengthAdjust="spacingAndGlyphs">40</text><text x="596.7" y="573.5" font-size="13.8" font-weight="bold" text-anchor="start" fill="#262626" stroke="#262626" stroke-width="0.35" textLength="9.5" lengthAdjust="spacingAndGlyphs">N</text><circle cx="588.9" cy="560.4" r="1.25" fill="none" stroke="#262626" stroke-width="0.85"/><text x="567.1" y="588.5" font-size="13.8" font-weight="bold" text-anchor="start" fill="#262626" stroke="#262626" stroke-width="0.35" textLength="17.6" lengthAdjust="spacingAndGlyphs">38</text><text x="596.7" y="588.5" font-size="13.8" font-weight="bold" text-anchor="start" fill="#262626" stroke="#262626" stroke-width="0.35" textLength="9.5" lengthAdjust="spacingAndGlyphs">N</text><circle cx="588.9" cy="575.4" r="1.25" fill="none" stroke="#262626" stroke-width="0.85"/><text x="567.1" y="605.2" font-size="13.8" font-weight="bold" text-anchor="start" fill="#262626" stroke="#262626" stroke-width="0.35" textLength="17.6" lengthAdjust="spacingAndGlyphs">36</text><text x="596.7" y="605.2" font-size="13.8" font-weight="bold" text-anchor="start" fill="#262626" stroke="#262626" stroke-width="0.35" textLength="9.5" lengthAdjust="spacingAndGlyphs">N</text><circle cx="588.9" cy="592.1" r="1.25" fill="none" stroke="#262626" stroke-width="0.85"/><text x="567.1" y="619.2" font-size="13.8" font-weight="bold" text-anchor="start" fill="#262626" stroke="#262626" stroke-width="0.35" textLength="17.6" lengthAdjust="spacingAndGlyphs">34</text><text x="596.7" y="619.2" font-size="13.8" font-weight="bold" text-anchor="start" fill="#262626" stroke="#262626" stroke-width="0.35" textLength="9.5" lengthAdjust="spacingAndGlyphs">N</text><circle cx="588.9" cy="606.1" r="1.25" fill="none" stroke="#262626" stroke-width="0.85"/><text x="567.1" y="636.5" font-size="13.8" font-weight="bold" text-anchor="start" fill="#262626" stroke="#262626" stroke-width="0.35" textLength="17.6" lengthAdjust="spacingAndGlyphs">32</text><text x="596.7" y="636.5" font-size="13.8" font-weight="bold" text-anchor="start" fill="#262626" stroke="#262626" stroke-width="0.35" textLength="9.5" lengthAdjust="spacingAndGlyphs">N</text><circle cx="588.9" cy="623.4" r="1.25" fill="none" stroke="#262626" stroke-width="0.85"/><text x="567.1" y="650.4" font-size="13.8" font-weight="bold" text-anchor="start" fill="#262626" stroke="#262626" stroke-width="0.35" textLength="17.6" lengthAdjust="spacingAndGlyphs">30</text><text x="596.7" y="650.4" font-size="13.8" font-weight="bold" text-anchor="start" fill="#262626" stroke="#262626" stroke-width="0.35" textLength="9.5" lengthAdjust="spacingAndGlyphs">N</text><circle cx="588.9" cy="637.3" r="1.25" fill="none" stroke="#262626" stroke-width="0.85"/><text x="567.1" y="663.2" font-size="13.8" font-weight="bold" text-anchor="start" fill="#262626" stroke="#262626" stroke-width="0.35" textLength="17.6" lengthAdjust="spacingAndGlyphs">28</text><text x="596.7" y="663.2" font-size="13.8" font-weight="bold" text-anchor="start" fill="#262626" stroke="#262626" stroke-width="0.35" textLength="9.5" lengthAdjust="spacingAndGlyphs">N</text><circle cx="588.9" cy="650.1" r="1.25" fill="none" stroke="#262626" stroke-width="0.85"/><text x="567.1" y="677.7" font-size="13.8" font-weight="bold" text-anchor="start" fill="#262626" stroke="#262626" stroke-width="0.35" textLength="17.6" lengthAdjust="spacingAndGlyphs">26</text><text x="596.7" y="677.7" font-size="13.8" font-weight="bold" text-anchor="start" fill="#262626" stroke="#262626" stroke-width="0.35" textLength="9.5" lengthAdjust="spacingAndGlyphs">N</text><circle cx="588.9" cy="664.6" r="1.25" fill="none" stroke="#262626" stroke-width="0.85"/><text x="567.1" y="691.7" font-size="13.8" font-weight="bold" text-anchor="start" fill="#262626" stroke="#262626" stroke-width="0.35" textLength="17.6" lengthAdjust="spacingAndGlyphs">24</text><text x="596.7" y="691.7" font-size="13.8" font-weight="bold" text-anchor="start" fill="#262626" stroke="#262626" stroke-width="0.35" textLength="9.5" lengthAdjust="spacingAndGlyphs">N</text><circle cx="588.9" cy="678.6" r="1.25" fill="none" stroke="#262626" stroke-width="0.85"/><text x="567.1" y="705.0" font-size="13.8" font-weight="bold" text-anchor="start" fill="#262626" stroke="#262626" stroke-width="0.35" textLength="17.6" lengthAdjust="spacingAndGlyphs">22</text><text x="596.7" y="705.0" font-size="13.8" font-weight="bold" text-anchor="start" fill="#262626" stroke="#262626" stroke-width="0.35" textLength="9.5" lengthAdjust="spacingAndGlyphs">N</text><circle cx="588.9" cy="691.9" r="1.25" fill="none" stroke="#262626" stroke-width="0.85"/><text x="894.9" y="684.4" font-size="22" font-weight="bold" text-anchor="start" fill="#262626" stroke="#262626" stroke-width="0.35" textLength="22.6" lengthAdjust="spacingAndGlyphs">-2</text><path d="M883.5 676.8H885.7" stroke="#262626" stroke-width="0.8"/><text x="894.9" y="642.1" font-size="22" font-weight="bold" text-anchor="start" fill="#262626" stroke="#262626" stroke-width="0.35" textLength="22.6" lengthAdjust="spacingAndGlyphs">-1</text><path d="M883.5 634.5H885.7" stroke="#262626" stroke-width="0.8"/><text x="894.9" y="599.9" font-size="22" font-weight="bold" text-anchor="start" fill="#262626" stroke="#262626" stroke-width="0.35" textLength="13.3" lengthAdjust="spacingAndGlyphs">0</text><path d="M883.5 592.3H885.7" stroke="#262626" stroke-width="0.8"/><text x="894.9" y="557.6" font-size="22" font-weight="bold" text-anchor="start" fill="#262626" stroke="#262626" stroke-width="0.35" textLength="13.3" lengthAdjust="spacingAndGlyphs">1</text><path d="M883.5 550.0H885.7" stroke="#262626" stroke-width="0.8"/><text x="894.9" y="515.4" font-size="22" font-weight="bold" text-anchor="start" fill="#262626" stroke="#262626" stroke-width="0.35" textLength="13.3" lengthAdjust="spacingAndGlyphs">2</text><path d="M883.5 507.8H885.7" stroke="#262626" stroke-width="0.8"/>
<text x="551.0" y="731.5" font-size="23.2" font-weight="bold" text-anchor="start" fill="#262626" stroke="#262626" stroke-width="0.35" textLength="109.3" lengthAdjust="spacingAndGlyphs">SAT-RAP</text><text x="671.0" y="731.5" font-size="23.2" font-weight="bold" text-anchor="start" fill="#262626" stroke="#262626" stroke-width="0.35" textLength="45.9" lengthAdjust="spacingAndGlyphs">700</text><text x="727.0" y="731.5" font-size="23.2" font-weight="bold" text-anchor="start" fill="#262626" stroke="#262626" stroke-width="0.35" textLength="45.3" lengthAdjust="spacingAndGlyphs">hPa</text><text x="783.0" y="731.5" font-size="23.2" font-weight="bold" text-anchor="start" fill="#262626" stroke="#262626" stroke-width="0.35" textLength="38.7" lengthAdjust="spacingAndGlyphs">MR</text><text x="832.3" y="731.5" font-size="23.2" font-weight="bold" text-anchor="start" fill="#262626" stroke="#262626" stroke-width="0.35" textLength="74.2" lengthAdjust="spacingAndGlyphs">(g/kg)</text>
<rect x="1037.2" y="485.2" width="235.7" height="214.7" fill="none" stroke="#262626" stroke-width="0.9"/>
<g transform="translate(1037.2 485.2) scale(1.0068 1.0099)"><g clip-path="url(#boxclip)"><use href="#usmap"/></g></g>
<rect x="1285.4" y="483.1" width="23.3" height="219.4" fill="url(#jet)" stroke="#262626" stroke-width="0.7"/>
<text x="1060.5" y="465.0" font-size="13.8" font-weight="bold" text-anchor="start" fill="#262626" stroke="#262626" stroke-width="0.35" textLength="23.8" lengthAdjust="spacingAndGlyphs">100</text><text x="1097.3" y="465.0" font-size="13.8" font-weight="bold" text-anchor="start" fill="#262626" stroke="#262626" stroke-width="0.35" textLength="13.0" lengthAdjust="spacingAndGlyphs">W</text><circle cx="1089.6" cy="452.3" r="1.25" fill="none" stroke="#262626" stroke-width="0.85"/><text x="1129.3" y="465.0" font-size="13.8" font-weight="bold" text-anchor="start" fill="#262626" stroke="#262626" stroke-width="0.35" textLength="16.2" lengthAdjust="spacingAndGlyphs">90</text><text x="1158.5" y="465.0" font-size="13.8" font-weight="bold" text-anchor="start" fill="#262626" stroke="#262626" stroke-width="0.35" textLength="13.0" lengthAdjust="spacingAndGlyphs">W</text><circle cx="1150.2" cy="452.3" r="1.25" fill="none" stroke="#262626" stroke-width="0.85"/><text x="1193.5" y="465.0" font-size="13.8" font-weight="bold" text-anchor="start" fill="#262626" stroke="#262626" stroke-width="0.35" textLength="16.4" lengthAdjust="spacingAndGlyphs">80</text><text x="1222.6" y="465.0" font-size="13.8" font-weight="bold" text-anchor="start" fill="#262626" stroke="#262626" stroke-width="0.35" textLength="12.8" lengthAdjust="spacingAndGlyphs">W</text><circle cx="1214.5" cy="452.3" r="1.25" fill="none" stroke="#262626" stroke-width="0.85"/><text x="1256.7" y="465.0" font-size="13.8" font-weight="bold" text-anchor="start" fill="#262626" stroke="#262626" stroke-width="0.35" textLength="15.6" lengthAdjust="spacingAndGlyphs">70</text><text x="1285.7" y="465.0" font-size="13.8" font-weight="bold" text-anchor="start" fill="#262626" stroke="#262626" stroke-width="0.35" textLength="12.6" lengthAdjust="spacingAndGlyphs">W</text><circle cx="1277.1" cy="452.3" r="1.25" fill="none" stroke="#262626" stroke-width="0.85"/><text x="988.2" y="503.1" font-size="13.8" font-weight="bold" text-anchor="start" fill="#262626" stroke="#262626" stroke-width="0.35" textLength="17.6" lengthAdjust="spacingAndGlyphs">48</text><text x="1017.8" y="503.1" font-size="13.8" font-weight="bold" text-anchor="start" fill="#262626" stroke="#262626" stroke-width="0.35" textLength="9.5" lengthAdjust="spacingAndGlyphs">N</text><circle cx="1010.0" cy="490.0" r="1.25" fill="none" stroke="#262626" stroke-width="0.85"/><text x="988.2" y="521.4" font-size="13.8" font-weight="bold" text-anchor="start" fill="#262626" stroke="#262626" stroke-width="0.35" textLength="17.6" lengthAdjust="spacingAndGlyphs">46</text><text x="1017.8" y="521.4" font-size="13.8" font-weight="bold" text-anchor="start" fill="#262626" stroke="#262626" stroke-width="0.35" textLength="9.5" lengthAdjust="spacingAndGlyphs">N</text><circle cx="1010.0" cy="508.3" r="1.25" fill="none" stroke="#262626" stroke-width="0.85"/><text x="988.2" y="538.6" font-size="13.8" font-weight="bold" text-anchor="start" fill="#262626" stroke="#262626" stroke-width="0.35" textLength="17.6" lengthAdjust="spacingAndGlyphs">44</text><text x="1017.8" y="538.6" font-size="13.8" font-weight="bold" text-anchor="start" fill="#262626" stroke="#262626" stroke-width="0.35" textLength="9.5" lengthAdjust="spacingAndGlyphs">N</text><circle cx="1010.0" cy="525.5" r="1.25" fill="none" stroke="#262626" stroke-width="0.85"/><text x="988.2" y="557.2" font-size="13.8" font-weight="bold" text-anchor="start" fill="#262626" stroke="#262626" stroke-width="0.35" textLength="17.6" lengthAdjust="spacingAndGlyphs">42</text><text x="1017.8" y="557.2" font-size="13.8" font-weight="bold" text-anchor="start" fill="#262626" stroke="#262626" stroke-width="0.35" textLength="9.5" lengthAdjust="spacingAndGlyphs">N</text><circle cx="1010.0" cy="544.1" r="1.25" fill="none" stroke="#262626" stroke-width="0.85"/><text x="988.2" y="573.5" font-size="13.8" font-weight="bold" text-anchor="start" fill="#262626" stroke="#262626" stroke-width="0.35" textLength="17.6" lengthAdjust="spacingAndGlyphs">40</text><text x="1017.8" y="573.5" font-size="13.8" font-weight="bold" text-anchor="start" fill="#262626" stroke="#262626" stroke-width="0.35" textLength="9.5" lengthAdjust="spacingAndGlyphs">N</text><circle cx="1010.0" cy="560.4" r="1.25" fill="none" stroke="#262626" stroke-width="0.85"/><text x="988.2" y="588.3" font-size="13.8" font-weight="bold" text-anchor="start" fill="#262626" stroke="#262626" stroke-width="0.35" textLength="17.6" lengthAdjust="spacingAndGlyphs">38</text><text x="1017.8" y="588.3" font-size="13.8" font-weight="bold" text-anchor="start" fill="#262626" stroke="#262626" stroke-width="0.35" textLength="9.5" lengthAdjust="spacingAndGlyphs">N</text><circle cx="1010.0" cy="575.2" r="1.25" fill="none" stroke="#262626" stroke-width="0.85"/><text x="988.2" y="605.5" font-size="13.8" font-weight="bold" text-anchor="start" fill="#262626" stroke="#262626" stroke-width="0.35" textLength="17.6" lengthAdjust="spacingAndGlyphs">36</text><text x="1017.8" y="605.5" font-size="13.8" font-weight="bold" text-anchor="start" fill="#262626" stroke="#262626" stroke-width="0.35" textLength="9.5" lengthAdjust="spacingAndGlyphs">N</text><circle cx="1010.0" cy="592.4" r="1.25" fill="none" stroke="#262626" stroke-width="0.85"/><text x="988.2" y="619.4" font-size="13.8" font-weight="bold" text-anchor="start" fill="#262626" stroke="#262626" stroke-width="0.35" textLength="17.6" lengthAdjust="spacingAndGlyphs">34</text><text x="1017.8" y="619.4" font-size="13.8" font-weight="bold" text-anchor="start" fill="#262626" stroke="#262626" stroke-width="0.35" textLength="9.5" lengthAdjust="spacingAndGlyphs">N</text><circle cx="1010.0" cy="606.3" r="1.25" fill="none" stroke="#262626" stroke-width="0.85"/><text x="988.2" y="636.9" font-size="13.8" font-weight="bold" text-anchor="start" fill="#262626" stroke="#262626" stroke-width="0.35" textLength="17.6" lengthAdjust="spacingAndGlyphs">32</text><text x="1017.8" y="636.9" font-size="13.8" font-weight="bold" text-anchor="start" fill="#262626" stroke="#262626" stroke-width="0.35" textLength="9.5" lengthAdjust="spacingAndGlyphs">N</text><circle cx="1010.0" cy="623.8" r="1.25" fill="none" stroke="#262626" stroke-width="0.85"/><text x="988.2" y="650.0" font-size="13.8" font-weight="bold" text-anchor="start" fill="#262626" stroke="#262626" stroke-width="0.35" textLength="17.6" lengthAdjust="spacingAndGlyphs">30</text><text x="1017.8" y="650.0" font-size="13.8" font-weight="bold" text-anchor="start" fill="#262626" stroke="#262626" stroke-width="0.35" textLength="9.5" lengthAdjust="spacingAndGlyphs">N</text><circle cx="1010.0" cy="636.9" r="1.25" fill="none" stroke="#262626" stroke-width="0.85"/><text x="988.2" y="665.1" font-size="13.8" font-weight="bold" text-anchor="start" fill="#262626" stroke="#262626" stroke-width="0.35" textLength="17.6" lengthAdjust="spacingAndGlyphs">28</text><text x="1017.8" y="665.1" font-size="13.8" font-weight="bold" text-anchor="start" fill="#262626" stroke="#262626" stroke-width="0.35" textLength="9.5" lengthAdjust="spacingAndGlyphs">N</text><circle cx="1010.0" cy="652.0" r="1.25" fill="none" stroke="#262626" stroke-width="0.85"/><text x="988.2" y="679.9" font-size="13.8" font-weight="bold" text-anchor="start" fill="#262626" stroke="#262626" stroke-width="0.35" textLength="17.6" lengthAdjust="spacingAndGlyphs">26</text><text x="1017.8" y="679.9" font-size="13.8" font-weight="bold" text-anchor="start" fill="#262626" stroke="#262626" stroke-width="0.35" textLength="9.5" lengthAdjust="spacingAndGlyphs">N</text><circle cx="1010.0" cy="666.8" r="1.25" fill="none" stroke="#262626" stroke-width="0.85"/><text x="988.2" y="692.2" font-size="13.8" font-weight="bold" text-anchor="start" fill="#262626" stroke="#262626" stroke-width="0.35" textLength="17.6" lengthAdjust="spacingAndGlyphs">24</text><text x="1017.8" y="692.2" font-size="13.8" font-weight="bold" text-anchor="start" fill="#262626" stroke="#262626" stroke-width="0.35" textLength="9.5" lengthAdjust="spacingAndGlyphs">N</text><circle cx="1010.0" cy="679.1" r="1.25" fill="none" stroke="#262626" stroke-width="0.85"/><text x="988.2" y="706.7" font-size="13.8" font-weight="bold" text-anchor="start" fill="#262626" stroke="#262626" stroke-width="0.35" textLength="17.6" lengthAdjust="spacingAndGlyphs">22</text><text x="1017.8" y="706.7" font-size="13.8" font-weight="bold" text-anchor="start" fill="#262626" stroke="#262626" stroke-width="0.35" textLength="9.5" lengthAdjust="spacingAndGlyphs">N</text><circle cx="1010.0" cy="693.6" r="1.25" fill="none" stroke="#262626" stroke-width="0.85"/><text x="1317.9" y="685.1" font-size="22" font-weight="bold" text-anchor="start" fill="#262626" stroke="#262626" stroke-width="0.35" textLength="43.5" lengthAdjust="spacingAndGlyphs">-0.5</text><path d="M1306.5 677.5H1308.7" stroke="#262626" stroke-width="0.8"/><text x="1317.9" y="600.1" font-size="22" font-weight="bold" text-anchor="start" fill="#262626" stroke="#262626" stroke-width="0.35" textLength="13.3" lengthAdjust="spacingAndGlyphs">0</text><path d="M1306.5 592.5H1308.7" stroke="#262626" stroke-width="0.8"/><text x="1317.9" y="515.1" font-size="22" font-weight="bold" text-anchor="start" fill="#262626" stroke="#262626" stroke-width="0.35" textLength="34.2" lengthAdjust="spacingAndGlyphs">0.5</text><path d="M1306.5 507.5H1308.7" stroke="#262626" stroke-width="0.8"/>
<text x="972.5" y="731.5" font-size="23.2" font-weight="bold" text-anchor="start" fill="#262626" stroke="#262626" stroke-width="0.35" textLength="109.3" lengthAdjust="spacingAndGlyphs">SAT-RAP</text><text x="1092.5" y="731.5" font-size="23.2" font-weight="bold" text-anchor="start" fill="#262626" stroke="#262626" stroke-width="0.35" textLength="45.9" lengthAdjust="spacingAndGlyphs">500</text><text x="1148.5" y="731.5" font-size="23.2" font-weight="bold" text-anchor="start" fill="#262626" stroke="#262626" stroke-width="0.35" textLength="45.3" lengthAdjust="spacingAndGlyphs">hPa</text><text x="1204.5" y="731.5" font-size="23.2" font-weight="bold" text-anchor="start" fill="#262626" stroke="#262626" stroke-width="0.35" textLength="38.7" lengthAdjust="spacingAndGlyphs">MR</text><text x="1253.8" y="731.5" font-size="23.2" font-weight="bold" text-anchor="start" fill="#262626" stroke="#262626" stroke-width="0.35" textLength="74.2" lengthAdjust="spacingAndGlyphs">(g/kg)</text>
</svg></body></html>
